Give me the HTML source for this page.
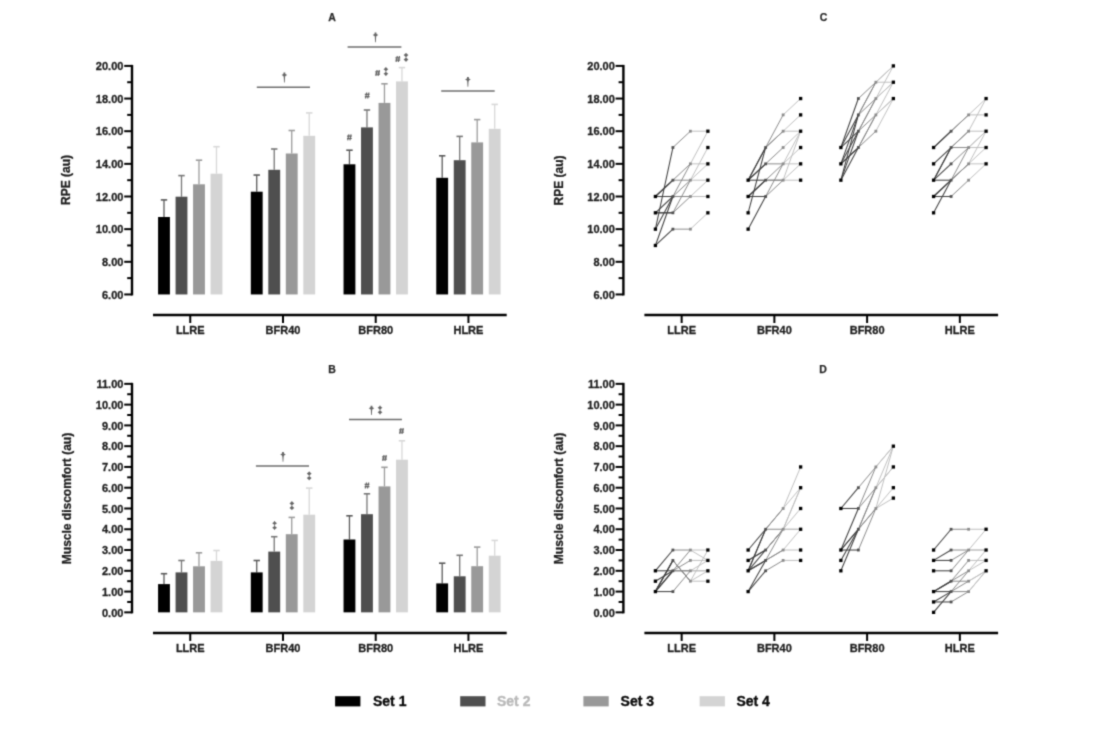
<!DOCTYPE html><html><head><meta charset="utf-8"><style>
html,body{margin:0;padding:0;background:#fff;}
body{width:1109px;height:737px;overflow:hidden;}
svg{display:block;font-family:"Liberation Sans", sans-serif;}
.tk{font-size:11px;font-weight:bold;fill:#1e1e1e;stroke:#1e1e1e;stroke-width:0.3px;}
.ttl{font-size:10.5px;font-weight:bold;fill:#2a2a2a;stroke:#2a2a2a;stroke-width:0.25px;}
.yl{font-size:12px;font-weight:bold;fill:#1e1e1e;stroke:#1e1e1e;stroke-width:0.3px;}
.sig{font-size:10px;fill:#555;}
.hs{font-size:8.5px;font-weight:bold;font-style:italic;fill:#555;}
.lg{font-size:14px;font-weight:bold;stroke-width:0.35px;}
</style></head><body>
<svg width="1109" height="737" viewBox="0 0 1109 737">
<defs><filter id="bl" filterUnits="userSpaceOnUse" x="0" y="0" width="1109" height="737" color-interpolation-filters="sRGB"><feConvolveMatrix order="3" kernelMatrix="1 4 1 4 16 4 1 4 1" divisor="36" edgeMode="duplicate"/></filter></defs>
<g>
<text x="332" y="20.9" text-anchor="middle" class="ttl">A</text>
<text x="332" y="372.5" text-anchor="middle" class="ttl">B</text>
<text x="823.5" y="21.2" text-anchor="middle" class="ttl">C</text>
<text x="823" y="372.5" text-anchor="middle" class="ttl">D</text>
<text transform="translate(69.8,180) rotate(-90)" text-anchor="middle" class="yl">RPE (au)</text>
<text transform="translate(71.2,498.5) rotate(-90)" text-anchor="middle" class="yl">Muscle discomfort (au)</text>
<text transform="translate(562.70,180.5) rotate(-90)" text-anchor="middle" class="yl">RPE (au)</text>
<text transform="translate(563.00,498.5) rotate(-90)" text-anchor="middle" class="yl">Muscle discomfort (au)</text>
<line x1="132.00" y1="64.90" x2="132.00" y2="295.45" stroke="#000" stroke-width="2.4"/>
<line x1="124.20" y1="294.45" x2="132.00" y2="294.45" stroke="#000" stroke-width="2.0"/>
<text x="123.40" y="298.65" text-anchor="end" class="tk">6.00</text>
<line x1="127.20" y1="278.12" x2="132.00" y2="278.12" stroke="#000" stroke-width="2.0"/>
<line x1="124.20" y1="261.80" x2="132.00" y2="261.80" stroke="#000" stroke-width="2.0"/>
<text x="123.40" y="266.00" text-anchor="end" class="tk">8.00</text>
<line x1="127.20" y1="245.47" x2="132.00" y2="245.47" stroke="#000" stroke-width="2.0"/>
<line x1="124.20" y1="229.15" x2="132.00" y2="229.15" stroke="#000" stroke-width="2.0"/>
<text x="123.40" y="233.35" text-anchor="end" class="tk">10.00</text>
<line x1="127.20" y1="212.82" x2="132.00" y2="212.82" stroke="#000" stroke-width="2.0"/>
<line x1="124.20" y1="196.50" x2="132.00" y2="196.50" stroke="#000" stroke-width="2.0"/>
<text x="123.40" y="200.70" text-anchor="end" class="tk">12.00</text>
<line x1="127.20" y1="180.18" x2="132.00" y2="180.18" stroke="#000" stroke-width="2.0"/>
<line x1="124.20" y1="163.85" x2="132.00" y2="163.85" stroke="#000" stroke-width="2.0"/>
<text x="123.40" y="168.05" text-anchor="end" class="tk">14.00</text>
<line x1="127.20" y1="147.52" x2="132.00" y2="147.52" stroke="#000" stroke-width="2.0"/>
<line x1="124.20" y1="131.20" x2="132.00" y2="131.20" stroke="#000" stroke-width="2.0"/>
<text x="123.40" y="135.40" text-anchor="end" class="tk">16.00</text>
<line x1="127.20" y1="114.88" x2="132.00" y2="114.88" stroke="#000" stroke-width="2.0"/>
<line x1="124.20" y1="98.55" x2="132.00" y2="98.55" stroke="#000" stroke-width="2.0"/>
<text x="123.40" y="102.75" text-anchor="end" class="tk">18.00</text>
<line x1="127.20" y1="82.22" x2="132.00" y2="82.22" stroke="#000" stroke-width="2.0"/>
<line x1="124.20" y1="65.90" x2="132.00" y2="65.90" stroke="#000" stroke-width="2.0"/>
<text x="123.40" y="70.10" text-anchor="end" class="tk">20.00</text>
<line x1="153.00" y1="315.00" x2="506.70" y2="315.00" stroke="#000" stroke-width="2.4"/>
<line x1="190.25" y1="315.00" x2="190.25" y2="323.00" stroke="#000" stroke-width="2.0"/>
<text x="190.25" y="333.60" text-anchor="middle" class="tk">LLRE</text>
<line x1="282.98" y1="315.00" x2="282.98" y2="323.00" stroke="#000" stroke-width="2.0"/>
<text x="282.98" y="333.60" text-anchor="middle" class="tk">BFR40</text>
<line x1="375.71" y1="315.00" x2="375.71" y2="323.00" stroke="#000" stroke-width="2.0"/>
<text x="375.71" y="333.60" text-anchor="middle" class="tk">BFR80</text>
<line x1="468.44" y1="315.00" x2="468.44" y2="323.00" stroke="#000" stroke-width="2.0"/>
<text x="468.44" y="333.60" text-anchor="middle" class="tk">HLRE</text>
<line x1="132.00" y1="382.85" x2="132.00" y2="613.35" stroke="#000" stroke-width="2.4"/>
<line x1="124.20" y1="612.35" x2="132.00" y2="612.35" stroke="#000" stroke-width="2.0"/>
<text x="123.40" y="616.55" text-anchor="end" class="tk">0.00</text>
<line x1="127.20" y1="601.96" x2="132.00" y2="601.96" stroke="#000" stroke-width="2.0"/>
<line x1="124.20" y1="591.58" x2="132.00" y2="591.58" stroke="#000" stroke-width="2.0"/>
<text x="123.40" y="595.78" text-anchor="end" class="tk">1.00</text>
<line x1="127.20" y1="581.19" x2="132.00" y2="581.19" stroke="#000" stroke-width="2.0"/>
<line x1="124.20" y1="570.80" x2="132.00" y2="570.80" stroke="#000" stroke-width="2.0"/>
<text x="123.40" y="575.00" text-anchor="end" class="tk">2.00</text>
<line x1="127.20" y1="560.42" x2="132.00" y2="560.42" stroke="#000" stroke-width="2.0"/>
<line x1="124.20" y1="550.03" x2="132.00" y2="550.03" stroke="#000" stroke-width="2.0"/>
<text x="123.40" y="554.23" text-anchor="end" class="tk">3.00</text>
<line x1="127.20" y1="539.65" x2="132.00" y2="539.65" stroke="#000" stroke-width="2.0"/>
<line x1="124.20" y1="529.26" x2="132.00" y2="529.26" stroke="#000" stroke-width="2.0"/>
<text x="123.40" y="533.46" text-anchor="end" class="tk">4.00</text>
<line x1="127.20" y1="518.87" x2="132.00" y2="518.87" stroke="#000" stroke-width="2.0"/>
<line x1="124.20" y1="508.49" x2="132.00" y2="508.49" stroke="#000" stroke-width="2.0"/>
<text x="123.40" y="512.69" text-anchor="end" class="tk">5.00</text>
<line x1="127.20" y1="498.10" x2="132.00" y2="498.10" stroke="#000" stroke-width="2.0"/>
<line x1="124.20" y1="487.71" x2="132.00" y2="487.71" stroke="#000" stroke-width="2.0"/>
<text x="123.40" y="491.91" text-anchor="end" class="tk">6.00</text>
<line x1="127.20" y1="477.33" x2="132.00" y2="477.33" stroke="#000" stroke-width="2.0"/>
<line x1="124.20" y1="466.94" x2="132.00" y2="466.94" stroke="#000" stroke-width="2.0"/>
<text x="123.40" y="471.14" text-anchor="end" class="tk">7.00</text>
<line x1="127.20" y1="456.55" x2="132.00" y2="456.55" stroke="#000" stroke-width="2.0"/>
<line x1="124.20" y1="446.17" x2="132.00" y2="446.17" stroke="#000" stroke-width="2.0"/>
<text x="123.40" y="450.37" text-anchor="end" class="tk">8.00</text>
<line x1="127.20" y1="435.78" x2="132.00" y2="435.78" stroke="#000" stroke-width="2.0"/>
<line x1="124.20" y1="425.40" x2="132.00" y2="425.40" stroke="#000" stroke-width="2.0"/>
<text x="123.40" y="429.60" text-anchor="end" class="tk">9.00</text>
<line x1="127.20" y1="415.01" x2="132.00" y2="415.01" stroke="#000" stroke-width="2.0"/>
<line x1="124.20" y1="404.62" x2="132.00" y2="404.62" stroke="#000" stroke-width="2.0"/>
<text x="123.40" y="408.82" text-anchor="end" class="tk">10.00</text>
<line x1="127.20" y1="394.24" x2="132.00" y2="394.24" stroke="#000" stroke-width="2.0"/>
<line x1="124.20" y1="383.85" x2="132.00" y2="383.85" stroke="#000" stroke-width="2.0"/>
<text x="123.40" y="388.05" text-anchor="end" class="tk">11.00</text>
<line x1="153.00" y1="632.95" x2="506.70" y2="632.95" stroke="#000" stroke-width="2.4"/>
<line x1="190.25" y1="632.95" x2="190.25" y2="640.95" stroke="#000" stroke-width="2.0"/>
<text x="190.25" y="651.55" text-anchor="middle" class="tk">LLRE</text>
<line x1="282.98" y1="632.95" x2="282.98" y2="640.95" stroke="#000" stroke-width="2.0"/>
<text x="282.98" y="651.55" text-anchor="middle" class="tk">BFR40</text>
<line x1="375.71" y1="632.95" x2="375.71" y2="640.95" stroke="#000" stroke-width="2.0"/>
<text x="375.71" y="651.55" text-anchor="middle" class="tk">BFR80</text>
<line x1="468.44" y1="632.95" x2="468.44" y2="640.95" stroke="#000" stroke-width="2.0"/>
<text x="468.44" y="651.55" text-anchor="middle" class="tk">HLRE</text>
<line x1="623.40" y1="64.90" x2="623.40" y2="295.45" stroke="#000" stroke-width="2.4"/>
<line x1="615.60" y1="294.45" x2="623.40" y2="294.45" stroke="#000" stroke-width="2.0"/>
<text x="614.80" y="298.65" text-anchor="end" class="tk">6.00</text>
<line x1="618.60" y1="278.12" x2="623.40" y2="278.12" stroke="#000" stroke-width="2.0"/>
<line x1="615.60" y1="261.80" x2="623.40" y2="261.80" stroke="#000" stroke-width="2.0"/>
<text x="614.80" y="266.00" text-anchor="end" class="tk">8.00</text>
<line x1="618.60" y1="245.47" x2="623.40" y2="245.47" stroke="#000" stroke-width="2.0"/>
<line x1="615.60" y1="229.15" x2="623.40" y2="229.15" stroke="#000" stroke-width="2.0"/>
<text x="614.80" y="233.35" text-anchor="end" class="tk">10.00</text>
<line x1="618.60" y1="212.82" x2="623.40" y2="212.82" stroke="#000" stroke-width="2.0"/>
<line x1="615.60" y1="196.50" x2="623.40" y2="196.50" stroke="#000" stroke-width="2.0"/>
<text x="614.80" y="200.70" text-anchor="end" class="tk">12.00</text>
<line x1="618.60" y1="180.18" x2="623.40" y2="180.18" stroke="#000" stroke-width="2.0"/>
<line x1="615.60" y1="163.85" x2="623.40" y2="163.85" stroke="#000" stroke-width="2.0"/>
<text x="614.80" y="168.05" text-anchor="end" class="tk">14.00</text>
<line x1="618.60" y1="147.52" x2="623.40" y2="147.52" stroke="#000" stroke-width="2.0"/>
<line x1="615.60" y1="131.20" x2="623.40" y2="131.20" stroke="#000" stroke-width="2.0"/>
<text x="614.80" y="135.40" text-anchor="end" class="tk">16.00</text>
<line x1="618.60" y1="114.88" x2="623.40" y2="114.88" stroke="#000" stroke-width="2.0"/>
<line x1="615.60" y1="98.55" x2="623.40" y2="98.55" stroke="#000" stroke-width="2.0"/>
<text x="614.80" y="102.75" text-anchor="end" class="tk">18.00</text>
<line x1="618.60" y1="82.22" x2="623.40" y2="82.22" stroke="#000" stroke-width="2.0"/>
<line x1="615.60" y1="65.90" x2="623.40" y2="65.90" stroke="#000" stroke-width="2.0"/>
<text x="614.80" y="70.10" text-anchor="end" class="tk">20.00</text>
<line x1="644.40" y1="315.00" x2="998.10" y2="315.00" stroke="#000" stroke-width="2.4"/>
<line x1="681.65" y1="315.00" x2="681.65" y2="323.00" stroke="#000" stroke-width="2.0"/>
<text x="681.65" y="333.60" text-anchor="middle" class="tk">LLRE</text>
<line x1="774.38" y1="315.00" x2="774.38" y2="323.00" stroke="#000" stroke-width="2.0"/>
<text x="774.38" y="333.60" text-anchor="middle" class="tk">BFR40</text>
<line x1="867.11" y1="315.00" x2="867.11" y2="323.00" stroke="#000" stroke-width="2.0"/>
<text x="867.11" y="333.60" text-anchor="middle" class="tk">BFR80</text>
<line x1="959.84" y1="315.00" x2="959.84" y2="323.00" stroke="#000" stroke-width="2.0"/>
<text x="959.84" y="333.60" text-anchor="middle" class="tk">HLRE</text>
<line x1="623.40" y1="382.85" x2="623.40" y2="613.35" stroke="#000" stroke-width="2.4"/>
<line x1="615.60" y1="612.35" x2="623.40" y2="612.35" stroke="#000" stroke-width="2.0"/>
<text x="614.80" y="616.55" text-anchor="end" class="tk">0.00</text>
<line x1="618.60" y1="601.96" x2="623.40" y2="601.96" stroke="#000" stroke-width="2.0"/>
<line x1="615.60" y1="591.58" x2="623.40" y2="591.58" stroke="#000" stroke-width="2.0"/>
<text x="614.80" y="595.78" text-anchor="end" class="tk">1.00</text>
<line x1="618.60" y1="581.19" x2="623.40" y2="581.19" stroke="#000" stroke-width="2.0"/>
<line x1="615.60" y1="570.80" x2="623.40" y2="570.80" stroke="#000" stroke-width="2.0"/>
<text x="614.80" y="575.00" text-anchor="end" class="tk">2.00</text>
<line x1="618.60" y1="560.42" x2="623.40" y2="560.42" stroke="#000" stroke-width="2.0"/>
<line x1="615.60" y1="550.03" x2="623.40" y2="550.03" stroke="#000" stroke-width="2.0"/>
<text x="614.80" y="554.23" text-anchor="end" class="tk">3.00</text>
<line x1="618.60" y1="539.65" x2="623.40" y2="539.65" stroke="#000" stroke-width="2.0"/>
<line x1="615.60" y1="529.26" x2="623.40" y2="529.26" stroke="#000" stroke-width="2.0"/>
<text x="614.80" y="533.46" text-anchor="end" class="tk">4.00</text>
<line x1="618.60" y1="518.87" x2="623.40" y2="518.87" stroke="#000" stroke-width="2.0"/>
<line x1="615.60" y1="508.49" x2="623.40" y2="508.49" stroke="#000" stroke-width="2.0"/>
<text x="614.80" y="512.69" text-anchor="end" class="tk">5.00</text>
<line x1="618.60" y1="498.10" x2="623.40" y2="498.10" stroke="#000" stroke-width="2.0"/>
<line x1="615.60" y1="487.71" x2="623.40" y2="487.71" stroke="#000" stroke-width="2.0"/>
<text x="614.80" y="491.91" text-anchor="end" class="tk">6.00</text>
<line x1="618.60" y1="477.33" x2="623.40" y2="477.33" stroke="#000" stroke-width="2.0"/>
<line x1="615.60" y1="466.94" x2="623.40" y2="466.94" stroke="#000" stroke-width="2.0"/>
<text x="614.80" y="471.14" text-anchor="end" class="tk">7.00</text>
<line x1="618.60" y1="456.55" x2="623.40" y2="456.55" stroke="#000" stroke-width="2.0"/>
<line x1="615.60" y1="446.17" x2="623.40" y2="446.17" stroke="#000" stroke-width="2.0"/>
<text x="614.80" y="450.37" text-anchor="end" class="tk">8.00</text>
<line x1="618.60" y1="435.78" x2="623.40" y2="435.78" stroke="#000" stroke-width="2.0"/>
<line x1="615.60" y1="425.40" x2="623.40" y2="425.40" stroke="#000" stroke-width="2.0"/>
<text x="614.80" y="429.60" text-anchor="end" class="tk">9.00</text>
<line x1="618.60" y1="415.01" x2="623.40" y2="415.01" stroke="#000" stroke-width="2.0"/>
<line x1="615.60" y1="404.62" x2="623.40" y2="404.62" stroke="#000" stroke-width="2.0"/>
<text x="614.80" y="408.82" text-anchor="end" class="tk">10.00</text>
<line x1="618.60" y1="394.24" x2="623.40" y2="394.24" stroke="#000" stroke-width="2.0"/>
<line x1="615.60" y1="383.85" x2="623.40" y2="383.85" stroke="#000" stroke-width="2.0"/>
<text x="614.80" y="388.05" text-anchor="end" class="tk">11.00</text>
<line x1="644.40" y1="632.95" x2="998.10" y2="632.95" stroke="#000" stroke-width="2.4"/>
<line x1="681.65" y1="632.95" x2="681.65" y2="640.95" stroke="#000" stroke-width="2.0"/>
<text x="681.65" y="651.55" text-anchor="middle" class="tk">LLRE</text>
<line x1="774.38" y1="632.95" x2="774.38" y2="640.95" stroke="#000" stroke-width="2.0"/>
<text x="774.38" y="651.55" text-anchor="middle" class="tk">BFR40</text>
<line x1="867.11" y1="632.95" x2="867.11" y2="640.95" stroke="#000" stroke-width="2.0"/>
<text x="867.11" y="651.55" text-anchor="middle" class="tk">BFR80</text>
<line x1="959.84" y1="632.95" x2="959.84" y2="640.95" stroke="#000" stroke-width="2.0"/>
<text x="959.84" y="651.55" text-anchor="middle" class="tk">HLRE</text>
<line x1="164.00" y1="199.90" x2="164.00" y2="217.00" stroke="#5a5a5a" stroke-width="1.3"/>
<line x1="160.80" y1="199.90" x2="167.20" y2="199.90" stroke="#5a5a5a" stroke-width="1.6"/>
<rect x="158.07" y="217.00" width="11.85" height="77.45" fill="#000000"/>
<line x1="181.50" y1="175.60" x2="181.50" y2="196.70" stroke="#777777" stroke-width="1.3"/>
<line x1="178.30" y1="175.60" x2="184.70" y2="175.60" stroke="#777777" stroke-width="1.6"/>
<rect x="175.57" y="196.70" width="11.85" height="97.75" fill="#4f4f4f"/>
<line x1="199.00" y1="160.20" x2="199.00" y2="184.30" stroke="#9c9c9c" stroke-width="1.3"/>
<line x1="195.80" y1="160.20" x2="202.20" y2="160.20" stroke="#9c9c9c" stroke-width="1.6"/>
<rect x="193.07" y="184.30" width="11.85" height="110.15" fill="#999999"/>
<line x1="216.50" y1="146.70" x2="216.50" y2="173.70" stroke="#d8d8d8" stroke-width="1.3"/>
<line x1="213.30" y1="146.70" x2="219.70" y2="146.70" stroke="#d8d8d8" stroke-width="1.6"/>
<rect x="210.57" y="173.70" width="11.85" height="120.75" fill="#d4d4d4"/>
<line x1="256.73" y1="175.05" x2="256.73" y2="191.70" stroke="#5a5a5a" stroke-width="1.3"/>
<line x1="253.53" y1="175.05" x2="259.93" y2="175.05" stroke="#5a5a5a" stroke-width="1.6"/>
<rect x="250.81" y="191.70" width="11.85" height="102.75" fill="#000000"/>
<line x1="274.23" y1="149.00" x2="274.23" y2="169.80" stroke="#777777" stroke-width="1.3"/>
<line x1="271.03" y1="149.00" x2="277.43" y2="149.00" stroke="#777777" stroke-width="1.6"/>
<rect x="268.31" y="169.80" width="11.85" height="124.65" fill="#4f4f4f"/>
<line x1="291.73" y1="130.50" x2="291.73" y2="153.50" stroke="#9c9c9c" stroke-width="1.3"/>
<line x1="288.53" y1="130.50" x2="294.93" y2="130.50" stroke="#9c9c9c" stroke-width="1.6"/>
<rect x="285.81" y="153.50" width="11.85" height="140.95" fill="#999999"/>
<line x1="309.23" y1="112.90" x2="309.23" y2="135.80" stroke="#d8d8d8" stroke-width="1.3"/>
<line x1="306.03" y1="112.90" x2="312.43" y2="112.90" stroke="#d8d8d8" stroke-width="1.6"/>
<rect x="303.31" y="135.80" width="11.85" height="158.65" fill="#d4d4d4"/>
<line x1="349.46" y1="150.20" x2="349.46" y2="164.30" stroke="#5a5a5a" stroke-width="1.3"/>
<line x1="346.26" y1="150.20" x2="352.66" y2="150.20" stroke="#5a5a5a" stroke-width="1.6"/>
<rect x="343.54" y="164.30" width="11.85" height="130.15" fill="#000000"/>
<line x1="366.96" y1="110.00" x2="366.96" y2="127.40" stroke="#777777" stroke-width="1.3"/>
<line x1="363.76" y1="110.00" x2="370.16" y2="110.00" stroke="#777777" stroke-width="1.6"/>
<rect x="361.04" y="127.40" width="11.85" height="167.05" fill="#4f4f4f"/>
<line x1="384.46" y1="83.80" x2="384.46" y2="102.90" stroke="#9c9c9c" stroke-width="1.3"/>
<line x1="381.26" y1="83.80" x2="387.66" y2="83.80" stroke="#9c9c9c" stroke-width="1.6"/>
<rect x="378.54" y="102.90" width="11.85" height="191.55" fill="#999999"/>
<line x1="401.96" y1="67.60" x2="401.96" y2="81.40" stroke="#d8d8d8" stroke-width="1.3"/>
<line x1="398.76" y1="67.60" x2="405.16" y2="67.60" stroke="#d8d8d8" stroke-width="1.6"/>
<rect x="396.04" y="81.40" width="11.85" height="213.05" fill="#d4d4d4"/>
<line x1="442.19" y1="155.80" x2="442.19" y2="177.80" stroke="#5a5a5a" stroke-width="1.3"/>
<line x1="438.99" y1="155.80" x2="445.39" y2="155.80" stroke="#5a5a5a" stroke-width="1.6"/>
<rect x="436.26" y="177.80" width="11.85" height="116.65" fill="#000000"/>
<line x1="459.69" y1="136.40" x2="459.69" y2="160.20" stroke="#777777" stroke-width="1.3"/>
<line x1="456.49" y1="136.40" x2="462.89" y2="136.40" stroke="#777777" stroke-width="1.6"/>
<rect x="453.76" y="160.20" width="11.85" height="134.25" fill="#4f4f4f"/>
<line x1="477.19" y1="119.60" x2="477.19" y2="142.40" stroke="#9c9c9c" stroke-width="1.3"/>
<line x1="473.99" y1="119.60" x2="480.39" y2="119.60" stroke="#9c9c9c" stroke-width="1.6"/>
<rect x="471.26" y="142.40" width="11.85" height="152.05" fill="#999999"/>
<line x1="494.69" y1="104.40" x2="494.69" y2="128.80" stroke="#d8d8d8" stroke-width="1.3"/>
<line x1="491.49" y1="104.40" x2="497.89" y2="104.40" stroke="#d8d8d8" stroke-width="1.6"/>
<rect x="488.76" y="128.80" width="11.85" height="165.65" fill="#d4d4d4"/>
<line x1="164.00" y1="573.70" x2="164.00" y2="584.10" stroke="#5a5a5a" stroke-width="1.3"/>
<line x1="160.80" y1="573.70" x2="167.20" y2="573.70" stroke="#5a5a5a" stroke-width="1.6"/>
<rect x="158.07" y="584.10" width="11.85" height="28.25" fill="#000000"/>
<line x1="181.50" y1="560.50" x2="181.50" y2="572.40" stroke="#777777" stroke-width="1.3"/>
<line x1="178.30" y1="560.50" x2="184.70" y2="560.50" stroke="#777777" stroke-width="1.6"/>
<rect x="175.57" y="572.40" width="11.85" height="39.95" fill="#4f4f4f"/>
<line x1="199.00" y1="552.80" x2="199.00" y2="566.30" stroke="#9c9c9c" stroke-width="1.3"/>
<line x1="195.80" y1="552.80" x2="202.20" y2="552.80" stroke="#9c9c9c" stroke-width="1.6"/>
<rect x="193.07" y="566.30" width="11.85" height="46.05" fill="#999999"/>
<line x1="216.50" y1="550.50" x2="216.50" y2="560.90" stroke="#d8d8d8" stroke-width="1.3"/>
<line x1="213.30" y1="550.50" x2="219.70" y2="550.50" stroke="#d8d8d8" stroke-width="1.6"/>
<rect x="210.57" y="560.90" width="11.85" height="51.45" fill="#d4d4d4"/>
<line x1="256.73" y1="560.50" x2="256.73" y2="572.40" stroke="#5a5a5a" stroke-width="1.3"/>
<line x1="253.53" y1="560.50" x2="259.93" y2="560.50" stroke="#5a5a5a" stroke-width="1.6"/>
<rect x="250.81" y="572.40" width="11.85" height="39.95" fill="#000000"/>
<line x1="274.23" y1="536.70" x2="274.23" y2="551.60" stroke="#777777" stroke-width="1.3"/>
<line x1="271.03" y1="536.70" x2="277.43" y2="536.70" stroke="#777777" stroke-width="1.6"/>
<rect x="268.31" y="551.60" width="11.85" height="60.75" fill="#4f4f4f"/>
<line x1="291.73" y1="517.40" x2="291.73" y2="534.20" stroke="#9c9c9c" stroke-width="1.3"/>
<line x1="288.53" y1="517.40" x2="294.93" y2="517.40" stroke="#9c9c9c" stroke-width="1.6"/>
<rect x="285.81" y="534.20" width="11.85" height="78.15" fill="#999999"/>
<line x1="309.23" y1="488.10" x2="309.23" y2="514.70" stroke="#d8d8d8" stroke-width="1.3"/>
<line x1="306.03" y1="488.10" x2="312.43" y2="488.10" stroke="#d8d8d8" stroke-width="1.6"/>
<rect x="303.31" y="514.70" width="11.85" height="97.65" fill="#d4d4d4"/>
<line x1="349.46" y1="515.80" x2="349.46" y2="539.50" stroke="#5a5a5a" stroke-width="1.3"/>
<line x1="346.26" y1="515.80" x2="352.66" y2="515.80" stroke="#5a5a5a" stroke-width="1.6"/>
<rect x="343.54" y="539.50" width="11.85" height="72.85" fill="#000000"/>
<line x1="366.96" y1="493.80" x2="366.96" y2="514.20" stroke="#777777" stroke-width="1.3"/>
<line x1="363.76" y1="493.80" x2="370.16" y2="493.80" stroke="#777777" stroke-width="1.6"/>
<rect x="361.04" y="514.20" width="11.85" height="98.15" fill="#4f4f4f"/>
<line x1="384.46" y1="467.30" x2="384.46" y2="486.40" stroke="#9c9c9c" stroke-width="1.3"/>
<line x1="381.26" y1="467.30" x2="387.66" y2="467.30" stroke="#9c9c9c" stroke-width="1.6"/>
<rect x="378.54" y="486.40" width="11.85" height="125.95" fill="#999999"/>
<line x1="401.96" y1="440.80" x2="401.96" y2="459.70" stroke="#d8d8d8" stroke-width="1.3"/>
<line x1="398.76" y1="440.80" x2="405.16" y2="440.80" stroke="#d8d8d8" stroke-width="1.6"/>
<rect x="396.04" y="459.70" width="11.85" height="152.65" fill="#d4d4d4"/>
<line x1="442.19" y1="563.20" x2="442.19" y2="583.40" stroke="#5a5a5a" stroke-width="1.3"/>
<line x1="438.99" y1="563.20" x2="445.39" y2="563.20" stroke="#5a5a5a" stroke-width="1.6"/>
<rect x="436.26" y="583.40" width="11.85" height="28.95" fill="#000000"/>
<line x1="459.69" y1="555.30" x2="459.69" y2="576.30" stroke="#777777" stroke-width="1.3"/>
<line x1="456.49" y1="555.30" x2="462.89" y2="555.30" stroke="#777777" stroke-width="1.6"/>
<rect x="453.76" y="576.30" width="11.85" height="36.05" fill="#4f4f4f"/>
<line x1="477.19" y1="547.10" x2="477.19" y2="566.20" stroke="#9c9c9c" stroke-width="1.3"/>
<line x1="473.99" y1="547.10" x2="480.39" y2="547.10" stroke="#9c9c9c" stroke-width="1.6"/>
<rect x="471.26" y="566.20" width="11.85" height="46.15" fill="#999999"/>
<line x1="494.69" y1="540.40" x2="494.69" y2="555.70" stroke="#d8d8d8" stroke-width="1.3"/>
<line x1="491.49" y1="540.40" x2="497.89" y2="540.40" stroke="#d8d8d8" stroke-width="1.6"/>
<rect x="488.76" y="555.70" width="11.85" height="56.65" fill="#d4d4d4"/>
<line x1="256.8" y1="87.3" x2="310" y2="87.3" stroke="#6e6e6e" stroke-width="1.5"/>
<path d="M283.50,72.50 L285.30,72.50 L284.75,82.40 L284.05,82.40 Z" fill="#666666"/>
<path d="M284.40,72.80 L285.40,74.10 L287.20,75.10 L285.40,76.10 L284.40,77.40 L283.40,76.10 L281.60,75.10 L283.40,74.10 Z" fill="#666666"/>
<line x1="347.6" y1="47" x2="401.4" y2="47" stroke="#6e6e6e" stroke-width="1.5"/>
<path d="M374.60,32.40 L376.40,32.40 L375.85,42.30 L375.15,42.30 Z" fill="#666666"/>
<path d="M375.50,32.70 L376.50,34.00 L378.30,35.00 L376.50,36.00 L375.50,37.30 L374.50,36.00 L372.70,35.00 L374.50,34.00 Z" fill="#666666"/>
<line x1="441.2" y1="91" x2="494.7" y2="91" stroke="#6e6e6e" stroke-width="1.5"/>
<path d="M467.00,76.90 L468.80,76.90 L468.25,86.80 L467.55,86.80 Z" fill="#666666"/>
<path d="M467.90,77.20 L468.90,78.50 L470.70,79.50 L468.90,80.50 L467.90,81.80 L466.90,80.50 L465.10,79.50 L466.90,78.50 Z" fill="#666666"/>
<path d="M348.90,134.30 L347.70,140.30 M351.10,134.30 L349.90,140.30 M347.00,136.10 L351.80,136.10 M347.00,138.50 L351.80,138.50 " stroke="#666666" stroke-width="1.2" fill="none"/>
<path d="M366.70,92.50 L365.50,98.50 M368.90,92.50 L367.70,98.50 M364.80,94.30 L369.60,94.30 M364.80,96.70 L369.60,96.70 " stroke="#666666" stroke-width="1.2" fill="none"/>
<path d="M377.10,70.00 L375.90,76.00 M379.30,70.00 L378.10,76.00 M375.20,71.80 L380.00,71.80 M375.20,74.20 L380.00,74.20 " stroke="#666666" stroke-width="1.2" fill="none"/>
<path d="M385.55,67.10 L386.25,67.10 L386.25,76.00 L385.55,76.00 Z" fill="#666666"/>
<path d="M385.90,67.40 L386.95,68.25 L388.30,69.30 L386.95,70.35 L385.90,71.20 L384.85,70.35 L383.50,69.30 L384.85,68.25 Z" fill="#666666"/>
<path d="M385.90,71.90 L386.95,72.75 L388.30,73.80 L386.95,74.85 L385.90,75.70 L384.85,74.85 L383.50,73.80 L384.85,72.75 Z" fill="#666666"/>
<path d="M397.30,56.00 L396.10,62.00 M399.50,56.00 L398.30,62.00 M395.40,57.80 L400.20,57.80 M395.40,60.20 L400.20,60.20 " stroke="#666666" stroke-width="1.2" fill="none"/>
<path d="M405.65,52.90 L406.35,52.90 L406.35,61.80 L405.65,61.80 Z" fill="#666666"/>
<path d="M406.00,53.20 L407.05,54.05 L408.40,55.10 L407.05,56.15 L406.00,57.00 L404.95,56.15 L403.60,55.10 L404.95,54.05 Z" fill="#666666"/>
<path d="M406.00,57.70 L407.05,58.55 L408.40,59.60 L407.05,60.65 L406.00,61.50 L404.95,60.65 L403.60,59.60 L404.95,58.55 Z" fill="#666666"/>
<line x1="255.9" y1="465.9" x2="309" y2="465.9" stroke="#6e6e6e" stroke-width="1.5"/>
<path d="M282.10,451.90 L283.90,451.90 L283.35,461.80 L282.65,461.80 Z" fill="#666666"/>
<path d="M283.00,452.20 L284.00,453.50 L285.80,454.50 L284.00,455.50 L283.00,456.80 L282.00,455.50 L280.20,454.50 L282.00,453.50 Z" fill="#666666"/>
<path d="M274.25,521.00 L274.95,521.00 L274.95,529.90 L274.25,529.90 Z" fill="#666666"/>
<path d="M274.60,521.30 L275.65,522.15 L277.00,523.20 L275.65,524.25 L274.60,525.10 L273.55,524.25 L272.20,523.20 L273.55,522.15 Z" fill="#666666"/>
<path d="M274.60,525.80 L275.65,526.65 L277.00,527.70 L275.65,528.75 L274.60,529.60 L273.55,528.75 L272.20,527.70 L273.55,526.65 Z" fill="#666666"/>
<path d="M291.55,501.20 L292.25,501.20 L292.25,510.10 L291.55,510.10 Z" fill="#666666"/>
<path d="M291.90,501.50 L292.95,502.35 L294.30,503.40 L292.95,504.45 L291.90,505.30 L290.85,504.45 L289.50,503.40 L290.85,502.35 Z" fill="#666666"/>
<path d="M291.90,506.00 L292.95,506.85 L294.30,507.90 L292.95,508.95 L291.90,509.80 L290.85,508.95 L289.50,507.90 L290.85,506.85 Z" fill="#666666"/>
<path d="M308.85,471.40 L309.55,471.40 L309.55,480.30 L308.85,480.30 Z" fill="#666666"/>
<path d="M309.20,471.70 L310.25,472.55 L311.60,473.60 L310.25,474.65 L309.20,475.50 L308.15,474.65 L306.80,473.60 L308.15,472.55 Z" fill="#666666"/>
<path d="M309.20,476.20 L310.25,477.05 L311.60,478.10 L310.25,479.15 L309.20,480.00 L308.15,479.15 L306.80,478.10 L308.15,477.05 Z" fill="#666666"/>
<line x1="349" y1="419.4" x2="401.9" y2="419.4" stroke="#6e6e6e" stroke-width="1.5"/>
<path d="M370.60,405.70 L372.40,405.70 L371.85,414.90 L371.15,414.90 Z" fill="#666666"/>
<path d="M371.50,406.00 L372.50,407.30 L374.30,408.30 L372.50,409.30 L371.50,410.60 L370.50,409.30 L368.70,408.30 L370.50,407.30 Z" fill="#666666"/>
<path d="M379.65,405.60 L380.35,405.60 L380.35,414.50 L379.65,414.50 Z" fill="#666666"/>
<path d="M380.00,405.90 L381.05,406.75 L382.40,407.80 L381.05,408.85 L380.00,409.70 L378.95,408.85 L377.60,407.80 L378.95,406.75 Z" fill="#666666"/>
<path d="M380.00,410.40 L381.05,411.25 L382.40,412.30 L381.05,413.35 L380.00,414.20 L378.95,413.35 L377.60,412.30 L378.95,411.25 Z" fill="#666666"/>
<path d="M366.50,482.50 L365.30,488.50 M368.70,482.50 L367.50,488.50 M364.60,484.30 L369.40,484.30 M364.60,486.70 L369.40,486.70 " stroke="#666666" stroke-width="1.2" fill="none"/>
<path d="M384.00,455.00 L382.80,461.00 M386.20,455.00 L385.00,461.00 M382.10,456.80 L386.90,456.80 M382.10,459.20 L386.90,459.20 " stroke="#666666" stroke-width="1.2" fill="none"/>
<path d="M401.00,428.00 L399.80,434.00 M403.20,428.00 L402.00,434.00 M399.10,429.80 L403.90,429.80 M399.10,432.20 L403.90,432.20 " stroke="#666666" stroke-width="1.2" fill="none"/>
<line x1="690.40" y1="131.20" x2="707.90" y2="131.20" stroke="#bdbdbd" stroke-width="0.95"/>
<line x1="690.40" y1="229.15" x2="707.90" y2="212.82" stroke="#bdbdbd" stroke-width="0.95"/>
<line x1="690.40" y1="163.85" x2="707.90" y2="163.85" stroke="#bdbdbd" stroke-width="0.95"/>
<line x1="690.40" y1="180.18" x2="707.90" y2="180.18" stroke="#bdbdbd" stroke-width="0.95"/>
<line x1="690.40" y1="180.18" x2="707.90" y2="147.52" stroke="#bdbdbd" stroke-width="0.95"/>
<line x1="690.40" y1="180.18" x2="707.90" y2="163.85" stroke="#bdbdbd" stroke-width="0.95"/>
<line x1="690.40" y1="163.85" x2="707.90" y2="131.20" stroke="#bdbdbd" stroke-width="0.95"/>
<line x1="690.40" y1="196.50" x2="707.90" y2="196.50" stroke="#bdbdbd" stroke-width="0.95"/>
<line x1="690.40" y1="196.50" x2="707.90" y2="196.50" stroke="#bdbdbd" stroke-width="0.95"/>
<line x1="690.40" y1="196.50" x2="707.90" y2="180.18" stroke="#bdbdbd" stroke-width="0.95"/>
<line x1="783.13" y1="114.88" x2="800.63" y2="98.55" stroke="#bdbdbd" stroke-width="0.95"/>
<line x1="783.13" y1="131.20" x2="800.63" y2="114.88" stroke="#bdbdbd" stroke-width="0.95"/>
<line x1="783.13" y1="131.20" x2="800.63" y2="131.20" stroke="#bdbdbd" stroke-width="0.95"/>
<line x1="783.13" y1="147.52" x2="800.63" y2="131.20" stroke="#bdbdbd" stroke-width="0.95"/>
<line x1="783.13" y1="163.85" x2="800.63" y2="147.52" stroke="#bdbdbd" stroke-width="0.95"/>
<line x1="783.13" y1="180.18" x2="800.63" y2="180.18" stroke="#bdbdbd" stroke-width="0.95"/>
<line x1="783.13" y1="180.18" x2="800.63" y2="163.85" stroke="#bdbdbd" stroke-width="0.95"/>
<line x1="783.13" y1="163.85" x2="800.63" y2="131.20" stroke="#bdbdbd" stroke-width="0.95"/>
<line x1="783.13" y1="180.18" x2="800.63" y2="131.20" stroke="#bdbdbd" stroke-width="0.95"/>
<line x1="783.13" y1="163.85" x2="800.63" y2="163.85" stroke="#bdbdbd" stroke-width="0.95"/>
<line x1="875.86" y1="82.22" x2="893.36" y2="65.90" stroke="#bdbdbd" stroke-width="0.95"/>
<line x1="875.86" y1="98.55" x2="893.36" y2="82.22" stroke="#bdbdbd" stroke-width="0.95"/>
<line x1="875.86" y1="82.22" x2="893.36" y2="65.90" stroke="#bdbdbd" stroke-width="0.95"/>
<line x1="875.86" y1="98.55" x2="893.36" y2="82.22" stroke="#bdbdbd" stroke-width="0.95"/>
<line x1="875.86" y1="131.20" x2="893.36" y2="98.55" stroke="#bdbdbd" stroke-width="0.95"/>
<line x1="875.86" y1="114.88" x2="893.36" y2="82.22" stroke="#bdbdbd" stroke-width="0.95"/>
<line x1="875.86" y1="114.88" x2="893.36" y2="98.55" stroke="#bdbdbd" stroke-width="0.95"/>
<line x1="875.86" y1="98.55" x2="893.36" y2="65.90" stroke="#bdbdbd" stroke-width="0.95"/>
<line x1="875.86" y1="82.22" x2="893.36" y2="82.22" stroke="#bdbdbd" stroke-width="0.95"/>
<line x1="875.86" y1="114.88" x2="893.36" y2="98.55" stroke="#bdbdbd" stroke-width="0.95"/>
<line x1="968.59" y1="114.88" x2="986.09" y2="98.55" stroke="#bdbdbd" stroke-width="0.95"/>
<line x1="968.59" y1="114.88" x2="986.09" y2="114.88" stroke="#bdbdbd" stroke-width="0.95"/>
<line x1="968.59" y1="131.20" x2="986.09" y2="131.20" stroke="#bdbdbd" stroke-width="0.95"/>
<line x1="968.59" y1="147.52" x2="986.09" y2="147.52" stroke="#bdbdbd" stroke-width="0.95"/>
<line x1="968.59" y1="147.52" x2="986.09" y2="131.20" stroke="#bdbdbd" stroke-width="0.95"/>
<line x1="968.59" y1="163.85" x2="986.09" y2="163.85" stroke="#bdbdbd" stroke-width="0.95"/>
<line x1="968.59" y1="163.85" x2="986.09" y2="131.20" stroke="#bdbdbd" stroke-width="0.95"/>
<line x1="968.59" y1="180.18" x2="986.09" y2="163.85" stroke="#bdbdbd" stroke-width="0.95"/>
<line x1="968.59" y1="147.52" x2="986.09" y2="131.20" stroke="#bdbdbd" stroke-width="0.95"/>
<line x1="968.59" y1="131.20" x2="986.09" y2="98.55" stroke="#bdbdbd" stroke-width="0.95"/>
<line x1="968.59" y1="163.85" x2="986.09" y2="147.52" stroke="#bdbdbd" stroke-width="0.95"/>
<line x1="672.90" y1="147.52" x2="690.40" y2="131.20" stroke="#858585" stroke-width="0.95"/>
<line x1="672.90" y1="229.15" x2="690.40" y2="229.15" stroke="#858585" stroke-width="0.95"/>
<line x1="672.90" y1="180.18" x2="690.40" y2="163.85" stroke="#858585" stroke-width="0.95"/>
<line x1="672.90" y1="180.18" x2="690.40" y2="180.18" stroke="#858585" stroke-width="0.95"/>
<line x1="672.90" y1="212.82" x2="690.40" y2="180.18" stroke="#858585" stroke-width="0.95"/>
<line x1="672.90" y1="196.50" x2="690.40" y2="180.18" stroke="#858585" stroke-width="0.95"/>
<line x1="672.90" y1="196.50" x2="690.40" y2="163.85" stroke="#858585" stroke-width="0.95"/>
<line x1="672.90" y1="196.50" x2="690.40" y2="196.50" stroke="#858585" stroke-width="0.95"/>
<line x1="672.90" y1="196.50" x2="690.40" y2="196.50" stroke="#858585" stroke-width="0.95"/>
<line x1="672.90" y1="212.82" x2="690.40" y2="196.50" stroke="#858585" stroke-width="0.95"/>
<line x1="765.63" y1="147.52" x2="783.13" y2="114.88" stroke="#858585" stroke-width="0.95"/>
<line x1="765.63" y1="147.52" x2="783.13" y2="131.20" stroke="#858585" stroke-width="0.95"/>
<line x1="765.63" y1="147.52" x2="783.13" y2="131.20" stroke="#858585" stroke-width="0.95"/>
<line x1="765.63" y1="163.85" x2="783.13" y2="147.52" stroke="#858585" stroke-width="0.95"/>
<line x1="765.63" y1="163.85" x2="783.13" y2="163.85" stroke="#858585" stroke-width="0.95"/>
<line x1="765.63" y1="180.18" x2="783.13" y2="180.18" stroke="#858585" stroke-width="0.95"/>
<line x1="765.63" y1="196.50" x2="783.13" y2="180.18" stroke="#858585" stroke-width="0.95"/>
<line x1="765.63" y1="196.50" x2="783.13" y2="163.85" stroke="#858585" stroke-width="0.95"/>
<line x1="765.63" y1="180.18" x2="783.13" y2="180.18" stroke="#858585" stroke-width="0.95"/>
<line x1="765.63" y1="180.18" x2="783.13" y2="163.85" stroke="#858585" stroke-width="0.95"/>
<line x1="858.36" y1="98.55" x2="875.86" y2="82.22" stroke="#858585" stroke-width="0.95"/>
<line x1="858.36" y1="114.88" x2="875.86" y2="98.55" stroke="#858585" stroke-width="0.95"/>
<line x1="858.36" y1="114.88" x2="875.86" y2="82.22" stroke="#858585" stroke-width="0.95"/>
<line x1="858.36" y1="131.20" x2="875.86" y2="98.55" stroke="#858585" stroke-width="0.95"/>
<line x1="858.36" y1="147.52" x2="875.86" y2="131.20" stroke="#858585" stroke-width="0.95"/>
<line x1="858.36" y1="131.20" x2="875.86" y2="114.88" stroke="#858585" stroke-width="0.95"/>
<line x1="858.36" y1="147.52" x2="875.86" y2="114.88" stroke="#858585" stroke-width="0.95"/>
<line x1="858.36" y1="131.20" x2="875.86" y2="98.55" stroke="#858585" stroke-width="0.95"/>
<line x1="858.36" y1="114.88" x2="875.86" y2="82.22" stroke="#858585" stroke-width="0.95"/>
<line x1="858.36" y1="147.52" x2="875.86" y2="114.88" stroke="#858585" stroke-width="0.95"/>
<line x1="951.09" y1="131.20" x2="968.59" y2="114.88" stroke="#858585" stroke-width="0.95"/>
<line x1="951.09" y1="131.20" x2="968.59" y2="114.88" stroke="#858585" stroke-width="0.95"/>
<line x1="951.09" y1="147.52" x2="968.59" y2="131.20" stroke="#858585" stroke-width="0.95"/>
<line x1="951.09" y1="147.52" x2="968.59" y2="147.52" stroke="#858585" stroke-width="0.95"/>
<line x1="951.09" y1="163.85" x2="968.59" y2="147.52" stroke="#858585" stroke-width="0.95"/>
<line x1="951.09" y1="180.18" x2="968.59" y2="163.85" stroke="#858585" stroke-width="0.95"/>
<line x1="951.09" y1="180.18" x2="968.59" y2="163.85" stroke="#858585" stroke-width="0.95"/>
<line x1="951.09" y1="196.50" x2="968.59" y2="180.18" stroke="#858585" stroke-width="0.95"/>
<line x1="951.09" y1="180.18" x2="968.59" y2="147.52" stroke="#858585" stroke-width="0.95"/>
<line x1="951.09" y1="147.52" x2="968.59" y2="131.20" stroke="#858585" stroke-width="0.95"/>
<line x1="951.09" y1="180.18" x2="968.59" y2="163.85" stroke="#858585" stroke-width="0.95"/>
<line x1="655.40" y1="229.15" x2="672.90" y2="147.52" stroke="#404040" stroke-width="1.05"/>
<line x1="655.40" y1="245.47" x2="672.90" y2="229.15" stroke="#404040" stroke-width="1.05"/>
<line x1="655.40" y1="196.50" x2="672.90" y2="180.18" stroke="#404040" stroke-width="1.05"/>
<line x1="655.40" y1="196.50" x2="672.90" y2="180.18" stroke="#404040" stroke-width="1.05"/>
<line x1="655.40" y1="212.82" x2="672.90" y2="212.82" stroke="#404040" stroke-width="1.05"/>
<line x1="655.40" y1="212.82" x2="672.90" y2="196.50" stroke="#404040" stroke-width="1.05"/>
<line x1="655.40" y1="229.15" x2="672.90" y2="196.50" stroke="#404040" stroke-width="1.05"/>
<line x1="655.40" y1="196.50" x2="672.90" y2="196.50" stroke="#404040" stroke-width="1.05"/>
<line x1="655.40" y1="245.47" x2="672.90" y2="196.50" stroke="#404040" stroke-width="1.05"/>
<line x1="655.40" y1="212.82" x2="672.90" y2="212.82" stroke="#404040" stroke-width="1.05"/>
<line x1="748.13" y1="180.18" x2="765.63" y2="147.52" stroke="#404040" stroke-width="1.05"/>
<line x1="748.13" y1="212.82" x2="765.63" y2="147.52" stroke="#404040" stroke-width="1.05"/>
<line x1="748.13" y1="180.18" x2="765.63" y2="147.52" stroke="#404040" stroke-width="1.05"/>
<line x1="748.13" y1="180.18" x2="765.63" y2="163.85" stroke="#404040" stroke-width="1.05"/>
<line x1="748.13" y1="180.18" x2="765.63" y2="163.85" stroke="#404040" stroke-width="1.05"/>
<line x1="748.13" y1="196.50" x2="765.63" y2="180.18" stroke="#404040" stroke-width="1.05"/>
<line x1="748.13" y1="196.50" x2="765.63" y2="196.50" stroke="#404040" stroke-width="1.05"/>
<line x1="748.13" y1="229.15" x2="765.63" y2="196.50" stroke="#404040" stroke-width="1.05"/>
<line x1="748.13" y1="196.50" x2="765.63" y2="180.18" stroke="#404040" stroke-width="1.05"/>
<line x1="748.13" y1="180.18" x2="765.63" y2="180.18" stroke="#404040" stroke-width="1.05"/>
<line x1="840.86" y1="147.52" x2="858.36" y2="98.55" stroke="#404040" stroke-width="1.05"/>
<line x1="840.86" y1="147.52" x2="858.36" y2="114.88" stroke="#404040" stroke-width="1.05"/>
<line x1="840.86" y1="163.85" x2="858.36" y2="114.88" stroke="#404040" stroke-width="1.05"/>
<line x1="840.86" y1="163.85" x2="858.36" y2="131.20" stroke="#404040" stroke-width="1.05"/>
<line x1="840.86" y1="163.85" x2="858.36" y2="147.52" stroke="#404040" stroke-width="1.05"/>
<line x1="840.86" y1="180.18" x2="858.36" y2="131.20" stroke="#404040" stroke-width="1.05"/>
<line x1="840.86" y1="180.18" x2="858.36" y2="147.52" stroke="#404040" stroke-width="1.05"/>
<line x1="840.86" y1="147.52" x2="858.36" y2="131.20" stroke="#404040" stroke-width="1.05"/>
<line x1="840.86" y1="180.18" x2="858.36" y2="114.88" stroke="#404040" stroke-width="1.05"/>
<line x1="840.86" y1="163.85" x2="858.36" y2="147.52" stroke="#404040" stroke-width="1.05"/>
<line x1="933.59" y1="147.52" x2="951.09" y2="131.20" stroke="#404040" stroke-width="1.05"/>
<line x1="933.59" y1="147.52" x2="951.09" y2="131.20" stroke="#404040" stroke-width="1.05"/>
<line x1="933.59" y1="163.85" x2="951.09" y2="147.52" stroke="#404040" stroke-width="1.05"/>
<line x1="933.59" y1="180.18" x2="951.09" y2="147.52" stroke="#404040" stroke-width="1.05"/>
<line x1="933.59" y1="180.18" x2="951.09" y2="163.85" stroke="#404040" stroke-width="1.05"/>
<line x1="933.59" y1="180.18" x2="951.09" y2="180.18" stroke="#404040" stroke-width="1.05"/>
<line x1="933.59" y1="196.50" x2="951.09" y2="180.18" stroke="#404040" stroke-width="1.05"/>
<line x1="933.59" y1="196.50" x2="951.09" y2="196.50" stroke="#404040" stroke-width="1.05"/>
<line x1="933.59" y1="212.82" x2="951.09" y2="180.18" stroke="#404040" stroke-width="1.05"/>
<line x1="933.59" y1="180.18" x2="951.09" y2="147.52" stroke="#404040" stroke-width="1.05"/>
<line x1="933.59" y1="196.50" x2="951.09" y2="180.18" stroke="#404040" stroke-width="1.05"/>
<rect x="653.75" y="194.85" width="3.3" height="3.3" fill="#000"/>
<rect x="653.75" y="211.17" width="3.3" height="3.3" fill="#000"/>
<rect x="653.75" y="227.50" width="3.3" height="3.3" fill="#000"/>
<rect x="653.75" y="243.82" width="3.3" height="3.3" fill="#000"/>
<rect x="746.48" y="178.53" width="3.3" height="3.3" fill="#000"/>
<rect x="746.48" y="194.85" width="3.3" height="3.3" fill="#000"/>
<rect x="746.48" y="211.17" width="3.3" height="3.3" fill="#000"/>
<rect x="746.48" y="227.50" width="3.3" height="3.3" fill="#000"/>
<rect x="839.21" y="145.87" width="3.3" height="3.3" fill="#000"/>
<rect x="839.21" y="162.20" width="3.3" height="3.3" fill="#000"/>
<rect x="839.21" y="178.53" width="3.3" height="3.3" fill="#000"/>
<rect x="931.94" y="145.87" width="3.3" height="3.3" fill="#000"/>
<rect x="931.94" y="162.20" width="3.3" height="3.3" fill="#000"/>
<rect x="931.94" y="178.53" width="3.3" height="3.3" fill="#000"/>
<rect x="931.94" y="194.85" width="3.3" height="3.3" fill="#000"/>
<rect x="931.94" y="211.17" width="3.3" height="3.3" fill="#000"/>
<rect x="671.50" y="146.12" width="2.8" height="2.8" fill="#505050"/>
<rect x="671.50" y="178.78" width="2.8" height="2.8" fill="#505050"/>
<rect x="671.50" y="195.10" width="2.8" height="2.8" fill="#505050"/>
<rect x="671.50" y="211.42" width="2.8" height="2.8" fill="#505050"/>
<rect x="671.50" y="227.75" width="2.8" height="2.8" fill="#505050"/>
<rect x="764.23" y="146.12" width="2.8" height="2.8" fill="#505050"/>
<rect x="764.23" y="162.45" width="2.8" height="2.8" fill="#505050"/>
<rect x="764.23" y="178.78" width="2.8" height="2.8" fill="#505050"/>
<rect x="764.23" y="195.10" width="2.8" height="2.8" fill="#505050"/>
<rect x="856.96" y="97.15" width="2.8" height="2.8" fill="#505050"/>
<rect x="856.96" y="113.48" width="2.8" height="2.8" fill="#505050"/>
<rect x="856.96" y="129.80" width="2.8" height="2.8" fill="#505050"/>
<rect x="856.96" y="146.12" width="2.8" height="2.8" fill="#505050"/>
<rect x="949.69" y="129.80" width="2.8" height="2.8" fill="#505050"/>
<rect x="949.69" y="146.12" width="2.8" height="2.8" fill="#505050"/>
<rect x="949.69" y="162.45" width="2.8" height="2.8" fill="#505050"/>
<rect x="949.69" y="178.78" width="2.8" height="2.8" fill="#505050"/>
<rect x="949.69" y="195.10" width="2.8" height="2.8" fill="#505050"/>
<rect x="689.00" y="129.80" width="2.8" height="2.8" fill="#8c8c8c"/>
<rect x="689.00" y="162.45" width="2.8" height="2.8" fill="#8c8c8c"/>
<rect x="689.00" y="178.78" width="2.8" height="2.8" fill="#8c8c8c"/>
<rect x="689.00" y="195.10" width="2.8" height="2.8" fill="#8c8c8c"/>
<rect x="689.00" y="227.75" width="2.8" height="2.8" fill="#8c8c8c"/>
<rect x="781.73" y="113.48" width="2.8" height="2.8" fill="#8c8c8c"/>
<rect x="781.73" y="129.80" width="2.8" height="2.8" fill="#8c8c8c"/>
<rect x="781.73" y="146.12" width="2.8" height="2.8" fill="#8c8c8c"/>
<rect x="781.73" y="162.45" width="2.8" height="2.8" fill="#8c8c8c"/>
<rect x="781.73" y="178.78" width="2.8" height="2.8" fill="#8c8c8c"/>
<rect x="874.46" y="80.82" width="2.8" height="2.8" fill="#8c8c8c"/>
<rect x="874.46" y="97.15" width="2.8" height="2.8" fill="#8c8c8c"/>
<rect x="874.46" y="113.48" width="2.8" height="2.8" fill="#8c8c8c"/>
<rect x="874.46" y="129.80" width="2.8" height="2.8" fill="#8c8c8c"/>
<rect x="967.19" y="113.48" width="2.8" height="2.8" fill="#8c8c8c"/>
<rect x="967.19" y="129.80" width="2.8" height="2.8" fill="#8c8c8c"/>
<rect x="967.19" y="146.12" width="2.8" height="2.8" fill="#8c8c8c"/>
<rect x="967.19" y="162.45" width="2.8" height="2.8" fill="#8c8c8c"/>
<rect x="967.19" y="178.78" width="2.8" height="2.8" fill="#8c8c8c"/>
<rect x="706.25" y="129.55" width="3.3" height="3.3" fill="#000"/>
<rect x="706.25" y="145.87" width="3.3" height="3.3" fill="#000"/>
<rect x="706.25" y="162.20" width="3.3" height="3.3" fill="#000"/>
<rect x="706.25" y="178.53" width="3.3" height="3.3" fill="#000"/>
<rect x="706.25" y="194.85" width="3.3" height="3.3" fill="#000"/>
<rect x="706.25" y="211.17" width="3.3" height="3.3" fill="#000"/>
<rect x="798.98" y="96.90" width="3.3" height="3.3" fill="#000"/>
<rect x="798.98" y="113.23" width="3.3" height="3.3" fill="#000"/>
<rect x="798.98" y="129.55" width="3.3" height="3.3" fill="#000"/>
<rect x="798.98" y="145.87" width="3.3" height="3.3" fill="#000"/>
<rect x="798.98" y="162.20" width="3.3" height="3.3" fill="#000"/>
<rect x="798.98" y="178.53" width="3.3" height="3.3" fill="#000"/>
<rect x="891.71" y="64.25" width="3.3" height="3.3" fill="#000"/>
<rect x="891.71" y="80.57" width="3.3" height="3.3" fill="#000"/>
<rect x="891.71" y="96.90" width="3.3" height="3.3" fill="#000"/>
<rect x="984.44" y="96.90" width="3.3" height="3.3" fill="#000"/>
<rect x="984.44" y="113.23" width="3.3" height="3.3" fill="#000"/>
<rect x="984.44" y="129.55" width="3.3" height="3.3" fill="#000"/>
<rect x="984.44" y="145.87" width="3.3" height="3.3" fill="#000"/>
<rect x="984.44" y="162.20" width="3.3" height="3.3" fill="#000"/>
<line x1="690.40" y1="550.03" x2="707.90" y2="550.03" stroke="#bdbdbd" stroke-width="0.95"/>
<line x1="690.40" y1="570.80" x2="707.90" y2="570.80" stroke="#bdbdbd" stroke-width="0.95"/>
<line x1="690.40" y1="560.42" x2="707.90" y2="560.42" stroke="#bdbdbd" stroke-width="0.95"/>
<line x1="690.40" y1="581.19" x2="707.90" y2="550.03" stroke="#bdbdbd" stroke-width="0.95"/>
<line x1="690.40" y1="550.03" x2="707.90" y2="560.42" stroke="#bdbdbd" stroke-width="0.95"/>
<line x1="690.40" y1="570.80" x2="707.90" y2="560.42" stroke="#bdbdbd" stroke-width="0.95"/>
<line x1="690.40" y1="570.80" x2="707.90" y2="570.80" stroke="#bdbdbd" stroke-width="0.95"/>
<line x1="690.40" y1="581.19" x2="707.90" y2="570.80" stroke="#bdbdbd" stroke-width="0.95"/>
<line x1="690.40" y1="581.19" x2="707.90" y2="581.19" stroke="#bdbdbd" stroke-width="0.95"/>
<line x1="783.13" y1="508.49" x2="800.63" y2="466.94" stroke="#bdbdbd" stroke-width="0.95"/>
<line x1="783.13" y1="529.26" x2="800.63" y2="529.26" stroke="#bdbdbd" stroke-width="0.95"/>
<line x1="783.13" y1="529.26" x2="800.63" y2="508.49" stroke="#bdbdbd" stroke-width="0.95"/>
<line x1="783.13" y1="529.26" x2="800.63" y2="487.71" stroke="#bdbdbd" stroke-width="0.95"/>
<line x1="783.13" y1="550.03" x2="800.63" y2="550.03" stroke="#bdbdbd" stroke-width="0.95"/>
<line x1="783.13" y1="529.26" x2="800.63" y2="487.71" stroke="#bdbdbd" stroke-width="0.95"/>
<line x1="783.13" y1="560.42" x2="800.63" y2="560.42" stroke="#bdbdbd" stroke-width="0.95"/>
<line x1="783.13" y1="508.49" x2="800.63" y2="487.71" stroke="#bdbdbd" stroke-width="0.95"/>
<line x1="783.13" y1="529.26" x2="800.63" y2="529.26" stroke="#bdbdbd" stroke-width="0.95"/>
<line x1="783.13" y1="550.03" x2="800.63" y2="529.26" stroke="#bdbdbd" stroke-width="0.95"/>
<line x1="875.86" y1="466.94" x2="893.36" y2="446.17" stroke="#bdbdbd" stroke-width="0.95"/>
<line x1="875.86" y1="466.94" x2="893.36" y2="446.17" stroke="#bdbdbd" stroke-width="0.95"/>
<line x1="875.86" y1="487.71" x2="893.36" y2="466.94" stroke="#bdbdbd" stroke-width="0.95"/>
<line x1="875.86" y1="508.49" x2="893.36" y2="446.17" stroke="#bdbdbd" stroke-width="0.95"/>
<line x1="875.86" y1="487.71" x2="893.36" y2="446.17" stroke="#bdbdbd" stroke-width="0.95"/>
<line x1="875.86" y1="508.49" x2="893.36" y2="498.10" stroke="#bdbdbd" stroke-width="0.95"/>
<line x1="875.86" y1="508.49" x2="893.36" y2="487.71" stroke="#bdbdbd" stroke-width="0.95"/>
<line x1="875.86" y1="487.71" x2="893.36" y2="466.94" stroke="#bdbdbd" stroke-width="0.95"/>
<line x1="968.59" y1="529.26" x2="986.09" y2="529.26" stroke="#bdbdbd" stroke-width="0.95"/>
<line x1="968.59" y1="550.03" x2="986.09" y2="550.03" stroke="#bdbdbd" stroke-width="0.95"/>
<line x1="968.59" y1="550.03" x2="986.09" y2="550.03" stroke="#bdbdbd" stroke-width="0.95"/>
<line x1="968.59" y1="550.03" x2="986.09" y2="529.26" stroke="#bdbdbd" stroke-width="0.95"/>
<line x1="968.59" y1="570.80" x2="986.09" y2="560.42" stroke="#bdbdbd" stroke-width="0.95"/>
<line x1="968.59" y1="591.58" x2="986.09" y2="570.80" stroke="#bdbdbd" stroke-width="0.95"/>
<line x1="968.59" y1="570.80" x2="986.09" y2="550.03" stroke="#bdbdbd" stroke-width="0.95"/>
<line x1="968.59" y1="591.58" x2="986.09" y2="570.80" stroke="#bdbdbd" stroke-width="0.95"/>
<line x1="968.59" y1="581.19" x2="986.09" y2="570.80" stroke="#bdbdbd" stroke-width="0.95"/>
<line x1="968.59" y1="560.42" x2="986.09" y2="560.42" stroke="#bdbdbd" stroke-width="0.95"/>
<line x1="968.59" y1="581.19" x2="986.09" y2="570.80" stroke="#bdbdbd" stroke-width="0.95"/>
<line x1="672.90" y1="550.03" x2="690.40" y2="550.03" stroke="#858585" stroke-width="0.95"/>
<line x1="672.90" y1="570.80" x2="690.40" y2="570.80" stroke="#858585" stroke-width="0.95"/>
<line x1="672.90" y1="570.80" x2="690.40" y2="560.42" stroke="#858585" stroke-width="0.95"/>
<line x1="672.90" y1="560.42" x2="690.40" y2="581.19" stroke="#858585" stroke-width="0.95"/>
<line x1="672.90" y1="570.80" x2="690.40" y2="550.03" stroke="#858585" stroke-width="0.95"/>
<line x1="672.90" y1="591.58" x2="690.40" y2="570.80" stroke="#858585" stroke-width="0.95"/>
<line x1="672.90" y1="570.80" x2="690.40" y2="570.80" stroke="#858585" stroke-width="0.95"/>
<line x1="672.90" y1="560.42" x2="690.40" y2="581.19" stroke="#858585" stroke-width="0.95"/>
<line x1="672.90" y1="560.42" x2="690.40" y2="581.19" stroke="#858585" stroke-width="0.95"/>
<line x1="765.63" y1="529.26" x2="783.13" y2="508.49" stroke="#858585" stroke-width="0.95"/>
<line x1="765.63" y1="529.26" x2="783.13" y2="529.26" stroke="#858585" stroke-width="0.95"/>
<line x1="765.63" y1="550.03" x2="783.13" y2="529.26" stroke="#858585" stroke-width="0.95"/>
<line x1="765.63" y1="550.03" x2="783.13" y2="529.26" stroke="#858585" stroke-width="0.95"/>
<line x1="765.63" y1="560.42" x2="783.13" y2="550.03" stroke="#858585" stroke-width="0.95"/>
<line x1="765.63" y1="560.42" x2="783.13" y2="529.26" stroke="#858585" stroke-width="0.95"/>
<line x1="765.63" y1="570.80" x2="783.13" y2="560.42" stroke="#858585" stroke-width="0.95"/>
<line x1="765.63" y1="529.26" x2="783.13" y2="508.49" stroke="#858585" stroke-width="0.95"/>
<line x1="765.63" y1="550.03" x2="783.13" y2="529.26" stroke="#858585" stroke-width="0.95"/>
<line x1="765.63" y1="560.42" x2="783.13" y2="550.03" stroke="#858585" stroke-width="0.95"/>
<line x1="858.36" y1="487.71" x2="875.86" y2="466.94" stroke="#858585" stroke-width="0.95"/>
<line x1="858.36" y1="508.49" x2="875.86" y2="466.94" stroke="#858585" stroke-width="0.95"/>
<line x1="858.36" y1="508.49" x2="875.86" y2="487.71" stroke="#858585" stroke-width="0.95"/>
<line x1="858.36" y1="550.03" x2="875.86" y2="508.49" stroke="#858585" stroke-width="0.95"/>
<line x1="858.36" y1="529.26" x2="875.86" y2="487.71" stroke="#858585" stroke-width="0.95"/>
<line x1="858.36" y1="529.26" x2="875.86" y2="508.49" stroke="#858585" stroke-width="0.95"/>
<line x1="858.36" y1="529.26" x2="875.86" y2="508.49" stroke="#858585" stroke-width="0.95"/>
<line x1="858.36" y1="529.26" x2="875.86" y2="487.71" stroke="#858585" stroke-width="0.95"/>
<line x1="951.09" y1="529.26" x2="968.59" y2="529.26" stroke="#858585" stroke-width="0.95"/>
<line x1="951.09" y1="550.03" x2="968.59" y2="550.03" stroke="#858585" stroke-width="0.95"/>
<line x1="951.09" y1="560.42" x2="968.59" y2="550.03" stroke="#858585" stroke-width="0.95"/>
<line x1="951.09" y1="570.80" x2="968.59" y2="550.03" stroke="#858585" stroke-width="0.95"/>
<line x1="951.09" y1="581.19" x2="968.59" y2="570.80" stroke="#858585" stroke-width="0.95"/>
<line x1="951.09" y1="591.58" x2="968.59" y2="591.58" stroke="#858585" stroke-width="0.95"/>
<line x1="951.09" y1="591.58" x2="968.59" y2="570.80" stroke="#858585" stroke-width="0.95"/>
<line x1="951.09" y1="601.96" x2="968.59" y2="591.58" stroke="#858585" stroke-width="0.95"/>
<line x1="951.09" y1="591.58" x2="968.59" y2="581.19" stroke="#858585" stroke-width="0.95"/>
<line x1="951.09" y1="581.19" x2="968.59" y2="560.42" stroke="#858585" stroke-width="0.95"/>
<line x1="951.09" y1="581.19" x2="968.59" y2="581.19" stroke="#858585" stroke-width="0.95"/>
<line x1="655.40" y1="570.80" x2="672.90" y2="550.03" stroke="#404040" stroke-width="1.05"/>
<line x1="655.40" y1="570.80" x2="672.90" y2="570.80" stroke="#404040" stroke-width="1.05"/>
<line x1="655.40" y1="581.19" x2="672.90" y2="570.80" stroke="#404040" stroke-width="1.05"/>
<line x1="655.40" y1="591.58" x2="672.90" y2="560.42" stroke="#404040" stroke-width="1.05"/>
<line x1="655.40" y1="591.58" x2="672.90" y2="570.80" stroke="#404040" stroke-width="1.05"/>
<line x1="655.40" y1="591.58" x2="672.90" y2="591.58" stroke="#404040" stroke-width="1.05"/>
<line x1="655.40" y1="591.58" x2="672.90" y2="570.80" stroke="#404040" stroke-width="1.05"/>
<line x1="655.40" y1="591.58" x2="672.90" y2="560.42" stroke="#404040" stroke-width="1.05"/>
<line x1="655.40" y1="591.58" x2="672.90" y2="560.42" stroke="#404040" stroke-width="1.05"/>
<line x1="748.13" y1="550.03" x2="765.63" y2="529.26" stroke="#404040" stroke-width="1.05"/>
<line x1="748.13" y1="570.80" x2="765.63" y2="529.26" stroke="#404040" stroke-width="1.05"/>
<line x1="748.13" y1="560.42" x2="765.63" y2="550.03" stroke="#404040" stroke-width="1.05"/>
<line x1="748.13" y1="570.80" x2="765.63" y2="550.03" stroke="#404040" stroke-width="1.05"/>
<line x1="748.13" y1="570.80" x2="765.63" y2="560.42" stroke="#404040" stroke-width="1.05"/>
<line x1="748.13" y1="591.58" x2="765.63" y2="560.42" stroke="#404040" stroke-width="1.05"/>
<line x1="748.13" y1="591.58" x2="765.63" y2="570.80" stroke="#404040" stroke-width="1.05"/>
<line x1="748.13" y1="570.80" x2="765.63" y2="529.26" stroke="#404040" stroke-width="1.05"/>
<line x1="748.13" y1="560.42" x2="765.63" y2="550.03" stroke="#404040" stroke-width="1.05"/>
<line x1="748.13" y1="570.80" x2="765.63" y2="560.42" stroke="#404040" stroke-width="1.05"/>
<line x1="840.86" y1="508.49" x2="858.36" y2="487.71" stroke="#404040" stroke-width="1.05"/>
<line x1="840.86" y1="508.49" x2="858.36" y2="508.49" stroke="#404040" stroke-width="1.05"/>
<line x1="840.86" y1="550.03" x2="858.36" y2="508.49" stroke="#404040" stroke-width="1.05"/>
<line x1="840.86" y1="550.03" x2="858.36" y2="550.03" stroke="#404040" stroke-width="1.05"/>
<line x1="840.86" y1="560.42" x2="858.36" y2="529.26" stroke="#404040" stroke-width="1.05"/>
<line x1="840.86" y1="570.80" x2="858.36" y2="529.26" stroke="#404040" stroke-width="1.05"/>
<line x1="840.86" y1="550.03" x2="858.36" y2="529.26" stroke="#404040" stroke-width="1.05"/>
<line x1="840.86" y1="550.03" x2="858.36" y2="529.26" stroke="#404040" stroke-width="1.05"/>
<line x1="933.59" y1="550.03" x2="951.09" y2="529.26" stroke="#404040" stroke-width="1.05"/>
<line x1="933.59" y1="560.42" x2="951.09" y2="550.03" stroke="#404040" stroke-width="1.05"/>
<line x1="933.59" y1="560.42" x2="951.09" y2="560.42" stroke="#404040" stroke-width="1.05"/>
<line x1="933.59" y1="570.80" x2="951.09" y2="570.80" stroke="#404040" stroke-width="1.05"/>
<line x1="933.59" y1="591.58" x2="951.09" y2="581.19" stroke="#404040" stroke-width="1.05"/>
<line x1="933.59" y1="591.58" x2="951.09" y2="591.58" stroke="#404040" stroke-width="1.05"/>
<line x1="933.59" y1="612.35" x2="951.09" y2="591.58" stroke="#404040" stroke-width="1.05"/>
<line x1="933.59" y1="601.96" x2="951.09" y2="601.96" stroke="#404040" stroke-width="1.05"/>
<line x1="933.59" y1="601.96" x2="951.09" y2="591.58" stroke="#404040" stroke-width="1.05"/>
<line x1="933.59" y1="591.58" x2="951.09" y2="581.19" stroke="#404040" stroke-width="1.05"/>
<line x1="933.59" y1="591.58" x2="951.09" y2="581.19" stroke="#404040" stroke-width="1.05"/>
<rect x="653.75" y="569.15" width="3.3" height="3.3" fill="#000"/>
<rect x="653.75" y="579.54" width="3.3" height="3.3" fill="#000"/>
<rect x="653.75" y="589.93" width="3.3" height="3.3" fill="#000"/>
<rect x="746.48" y="548.38" width="3.3" height="3.3" fill="#000"/>
<rect x="746.48" y="558.77" width="3.3" height="3.3" fill="#000"/>
<rect x="746.48" y="569.15" width="3.3" height="3.3" fill="#000"/>
<rect x="746.48" y="589.93" width="3.3" height="3.3" fill="#000"/>
<rect x="839.21" y="506.84" width="3.3" height="3.3" fill="#000"/>
<rect x="839.21" y="548.38" width="3.3" height="3.3" fill="#000"/>
<rect x="839.21" y="558.77" width="3.3" height="3.3" fill="#000"/>
<rect x="839.21" y="569.15" width="3.3" height="3.3" fill="#000"/>
<rect x="931.94" y="548.38" width="3.3" height="3.3" fill="#000"/>
<rect x="931.94" y="558.77" width="3.3" height="3.3" fill="#000"/>
<rect x="931.94" y="569.15" width="3.3" height="3.3" fill="#000"/>
<rect x="931.94" y="589.93" width="3.3" height="3.3" fill="#000"/>
<rect x="931.94" y="600.31" width="3.3" height="3.3" fill="#000"/>
<rect x="931.94" y="610.70" width="3.3" height="3.3" fill="#000"/>
<rect x="671.50" y="548.63" width="2.8" height="2.8" fill="#505050"/>
<rect x="671.50" y="559.02" width="2.8" height="2.8" fill="#505050"/>
<rect x="671.50" y="569.40" width="2.8" height="2.8" fill="#505050"/>
<rect x="671.50" y="590.18" width="2.8" height="2.8" fill="#505050"/>
<rect x="764.23" y="527.86" width="2.8" height="2.8" fill="#505050"/>
<rect x="764.23" y="548.63" width="2.8" height="2.8" fill="#505050"/>
<rect x="764.23" y="559.02" width="2.8" height="2.8" fill="#505050"/>
<rect x="764.23" y="569.40" width="2.8" height="2.8" fill="#505050"/>
<rect x="856.96" y="486.31" width="2.8" height="2.8" fill="#505050"/>
<rect x="856.96" y="507.09" width="2.8" height="2.8" fill="#505050"/>
<rect x="856.96" y="527.86" width="2.8" height="2.8" fill="#505050"/>
<rect x="856.96" y="548.63" width="2.8" height="2.8" fill="#505050"/>
<rect x="949.69" y="527.86" width="2.8" height="2.8" fill="#505050"/>
<rect x="949.69" y="548.63" width="2.8" height="2.8" fill="#505050"/>
<rect x="949.69" y="559.02" width="2.8" height="2.8" fill="#505050"/>
<rect x="949.69" y="569.40" width="2.8" height="2.8" fill="#505050"/>
<rect x="949.69" y="579.79" width="2.8" height="2.8" fill="#505050"/>
<rect x="949.69" y="590.18" width="2.8" height="2.8" fill="#505050"/>
<rect x="949.69" y="600.56" width="2.8" height="2.8" fill="#505050"/>
<rect x="689.00" y="548.63" width="2.8" height="2.8" fill="#8c8c8c"/>
<rect x="689.00" y="559.02" width="2.8" height="2.8" fill="#8c8c8c"/>
<rect x="689.00" y="569.40" width="2.8" height="2.8" fill="#8c8c8c"/>
<rect x="689.00" y="579.79" width="2.8" height="2.8" fill="#8c8c8c"/>
<rect x="781.73" y="507.09" width="2.8" height="2.8" fill="#8c8c8c"/>
<rect x="781.73" y="527.86" width="2.8" height="2.8" fill="#8c8c8c"/>
<rect x="781.73" y="548.63" width="2.8" height="2.8" fill="#8c8c8c"/>
<rect x="781.73" y="559.02" width="2.8" height="2.8" fill="#8c8c8c"/>
<rect x="874.46" y="465.54" width="2.8" height="2.8" fill="#8c8c8c"/>
<rect x="874.46" y="486.31" width="2.8" height="2.8" fill="#8c8c8c"/>
<rect x="874.46" y="507.09" width="2.8" height="2.8" fill="#8c8c8c"/>
<rect x="967.19" y="527.86" width="2.8" height="2.8" fill="#8c8c8c"/>
<rect x="967.19" y="548.63" width="2.8" height="2.8" fill="#8c8c8c"/>
<rect x="967.19" y="559.02" width="2.8" height="2.8" fill="#8c8c8c"/>
<rect x="967.19" y="569.40" width="2.8" height="2.8" fill="#8c8c8c"/>
<rect x="967.19" y="579.79" width="2.8" height="2.8" fill="#8c8c8c"/>
<rect x="967.19" y="590.18" width="2.8" height="2.8" fill="#8c8c8c"/>
<rect x="706.25" y="548.38" width="3.3" height="3.3" fill="#000"/>
<rect x="706.25" y="558.77" width="3.3" height="3.3" fill="#000"/>
<rect x="706.25" y="569.15" width="3.3" height="3.3" fill="#000"/>
<rect x="706.25" y="579.54" width="3.3" height="3.3" fill="#000"/>
<rect x="798.98" y="465.29" width="3.3" height="3.3" fill="#000"/>
<rect x="798.98" y="486.06" width="3.3" height="3.3" fill="#000"/>
<rect x="798.98" y="506.84" width="3.3" height="3.3" fill="#000"/>
<rect x="798.98" y="527.61" width="3.3" height="3.3" fill="#000"/>
<rect x="798.98" y="548.38" width="3.3" height="3.3" fill="#000"/>
<rect x="798.98" y="558.77" width="3.3" height="3.3" fill="#000"/>
<rect x="891.71" y="444.52" width="3.3" height="3.3" fill="#000"/>
<rect x="891.71" y="465.29" width="3.3" height="3.3" fill="#000"/>
<rect x="891.71" y="486.06" width="3.3" height="3.3" fill="#000"/>
<rect x="891.71" y="496.45" width="3.3" height="3.3" fill="#000"/>
<rect x="984.44" y="527.61" width="3.3" height="3.3" fill="#000"/>
<rect x="984.44" y="548.38" width="3.3" height="3.3" fill="#000"/>
<rect x="984.44" y="558.77" width="3.3" height="3.3" fill="#000"/>
<rect x="984.44" y="569.15" width="3.3" height="3.3" fill="#000"/>
<rect x="335.1" y="696.2" width="25.3" height="10.2" fill="#000"/>
<text x="373.0" y="706.3" class="lg" style="fill:#0a0a0a;stroke:#0a0a0a">Set 1</text>
<rect x="460.2" y="696.2" width="25.3" height="10.2" fill="#4f4f4f"/>
<text x="497.0" y="706.3" class="lg" style="fill:#b9b9b9;stroke:#b9b9b9">Set 2</text>
<rect x="583.4" y="696.2" width="25.3" height="10.2" fill="#999"/>
<text x="620.6" y="706.3" class="lg" style="fill:#0a0a0a;stroke:#0a0a0a">Set 3</text>
<rect x="699.6" y="696.2" width="25.3" height="10.2" fill="#d4d4d4"/>
<text x="736.4" y="706.3" class="lg" style="fill:#0a0a0a;stroke:#0a0a0a">Set 4</text>
</g>
<g filter="url(#bl)">
<rect width="1109" height="737" fill="#fff"/>
<text x="332" y="20.9" text-anchor="middle" class="ttl">A</text>
<text x="332" y="372.5" text-anchor="middle" class="ttl">B</text>
<text x="823.5" y="21.2" text-anchor="middle" class="ttl">C</text>
<text x="823" y="372.5" text-anchor="middle" class="ttl">D</text>
<text transform="translate(69.8,180) rotate(-90)" text-anchor="middle" class="yl">RPE (au)</text>
<text transform="translate(71.2,498.5) rotate(-90)" text-anchor="middle" class="yl">Muscle discomfort (au)</text>
<text transform="translate(562.70,180.5) rotate(-90)" text-anchor="middle" class="yl">RPE (au)</text>
<text transform="translate(563.00,498.5) rotate(-90)" text-anchor="middle" class="yl">Muscle discomfort (au)</text>
<line x1="132.00" y1="64.90" x2="132.00" y2="295.45" stroke="#000" stroke-width="2.4"/>
<line x1="124.20" y1="294.45" x2="132.00" y2="294.45" stroke="#000" stroke-width="2.0"/>
<text x="123.40" y="298.65" text-anchor="end" class="tk">6.00</text>
<line x1="127.20" y1="278.12" x2="132.00" y2="278.12" stroke="#000" stroke-width="2.0"/>
<line x1="124.20" y1="261.80" x2="132.00" y2="261.80" stroke="#000" stroke-width="2.0"/>
<text x="123.40" y="266.00" text-anchor="end" class="tk">8.00</text>
<line x1="127.20" y1="245.47" x2="132.00" y2="245.47" stroke="#000" stroke-width="2.0"/>
<line x1="124.20" y1="229.15" x2="132.00" y2="229.15" stroke="#000" stroke-width="2.0"/>
<text x="123.40" y="233.35" text-anchor="end" class="tk">10.00</text>
<line x1="127.20" y1="212.82" x2="132.00" y2="212.82" stroke="#000" stroke-width="2.0"/>
<line x1="124.20" y1="196.50" x2="132.00" y2="196.50" stroke="#000" stroke-width="2.0"/>
<text x="123.40" y="200.70" text-anchor="end" class="tk">12.00</text>
<line x1="127.20" y1="180.18" x2="132.00" y2="180.18" stroke="#000" stroke-width="2.0"/>
<line x1="124.20" y1="163.85" x2="132.00" y2="163.85" stroke="#000" stroke-width="2.0"/>
<text x="123.40" y="168.05" text-anchor="end" class="tk">14.00</text>
<line x1="127.20" y1="147.52" x2="132.00" y2="147.52" stroke="#000" stroke-width="2.0"/>
<line x1="124.20" y1="131.20" x2="132.00" y2="131.20" stroke="#000" stroke-width="2.0"/>
<text x="123.40" y="135.40" text-anchor="end" class="tk">16.00</text>
<line x1="127.20" y1="114.88" x2="132.00" y2="114.88" stroke="#000" stroke-width="2.0"/>
<line x1="124.20" y1="98.55" x2="132.00" y2="98.55" stroke="#000" stroke-width="2.0"/>
<text x="123.40" y="102.75" text-anchor="end" class="tk">18.00</text>
<line x1="127.20" y1="82.22" x2="132.00" y2="82.22" stroke="#000" stroke-width="2.0"/>
<line x1="124.20" y1="65.90" x2="132.00" y2="65.90" stroke="#000" stroke-width="2.0"/>
<text x="123.40" y="70.10" text-anchor="end" class="tk">20.00</text>
<line x1="153.00" y1="315.00" x2="506.70" y2="315.00" stroke="#000" stroke-width="2.4"/>
<line x1="190.25" y1="315.00" x2="190.25" y2="323.00" stroke="#000" stroke-width="2.0"/>
<text x="190.25" y="333.60" text-anchor="middle" class="tk">LLRE</text>
<line x1="282.98" y1="315.00" x2="282.98" y2="323.00" stroke="#000" stroke-width="2.0"/>
<text x="282.98" y="333.60" text-anchor="middle" class="tk">BFR40</text>
<line x1="375.71" y1="315.00" x2="375.71" y2="323.00" stroke="#000" stroke-width="2.0"/>
<text x="375.71" y="333.60" text-anchor="middle" class="tk">BFR80</text>
<line x1="468.44" y1="315.00" x2="468.44" y2="323.00" stroke="#000" stroke-width="2.0"/>
<text x="468.44" y="333.60" text-anchor="middle" class="tk">HLRE</text>
<line x1="132.00" y1="382.85" x2="132.00" y2="613.35" stroke="#000" stroke-width="2.4"/>
<line x1="124.20" y1="612.35" x2="132.00" y2="612.35" stroke="#000" stroke-width="2.0"/>
<text x="123.40" y="616.55" text-anchor="end" class="tk">0.00</text>
<line x1="127.20" y1="601.96" x2="132.00" y2="601.96" stroke="#000" stroke-width="2.0"/>
<line x1="124.20" y1="591.58" x2="132.00" y2="591.58" stroke="#000" stroke-width="2.0"/>
<text x="123.40" y="595.78" text-anchor="end" class="tk">1.00</text>
<line x1="127.20" y1="581.19" x2="132.00" y2="581.19" stroke="#000" stroke-width="2.0"/>
<line x1="124.20" y1="570.80" x2="132.00" y2="570.80" stroke="#000" stroke-width="2.0"/>
<text x="123.40" y="575.00" text-anchor="end" class="tk">2.00</text>
<line x1="127.20" y1="560.42" x2="132.00" y2="560.42" stroke="#000" stroke-width="2.0"/>
<line x1="124.20" y1="550.03" x2="132.00" y2="550.03" stroke="#000" stroke-width="2.0"/>
<text x="123.40" y="554.23" text-anchor="end" class="tk">3.00</text>
<line x1="127.20" y1="539.65" x2="132.00" y2="539.65" stroke="#000" stroke-width="2.0"/>
<line x1="124.20" y1="529.26" x2="132.00" y2="529.26" stroke="#000" stroke-width="2.0"/>
<text x="123.40" y="533.46" text-anchor="end" class="tk">4.00</text>
<line x1="127.20" y1="518.87" x2="132.00" y2="518.87" stroke="#000" stroke-width="2.0"/>
<line x1="124.20" y1="508.49" x2="132.00" y2="508.49" stroke="#000" stroke-width="2.0"/>
<text x="123.40" y="512.69" text-anchor="end" class="tk">5.00</text>
<line x1="127.20" y1="498.10" x2="132.00" y2="498.10" stroke="#000" stroke-width="2.0"/>
<line x1="124.20" y1="487.71" x2="132.00" y2="487.71" stroke="#000" stroke-width="2.0"/>
<text x="123.40" y="491.91" text-anchor="end" class="tk">6.00</text>
<line x1="127.20" y1="477.33" x2="132.00" y2="477.33" stroke="#000" stroke-width="2.0"/>
<line x1="124.20" y1="466.94" x2="132.00" y2="466.94" stroke="#000" stroke-width="2.0"/>
<text x="123.40" y="471.14" text-anchor="end" class="tk">7.00</text>
<line x1="127.20" y1="456.55" x2="132.00" y2="456.55" stroke="#000" stroke-width="2.0"/>
<line x1="124.20" y1="446.17" x2="132.00" y2="446.17" stroke="#000" stroke-width="2.0"/>
<text x="123.40" y="450.37" text-anchor="end" class="tk">8.00</text>
<line x1="127.20" y1="435.78" x2="132.00" y2="435.78" stroke="#000" stroke-width="2.0"/>
<line x1="124.20" y1="425.40" x2="132.00" y2="425.40" stroke="#000" stroke-width="2.0"/>
<text x="123.40" y="429.60" text-anchor="end" class="tk">9.00</text>
<line x1="127.20" y1="415.01" x2="132.00" y2="415.01" stroke="#000" stroke-width="2.0"/>
<line x1="124.20" y1="404.62" x2="132.00" y2="404.62" stroke="#000" stroke-width="2.0"/>
<text x="123.40" y="408.82" text-anchor="end" class="tk">10.00</text>
<line x1="127.20" y1="394.24" x2="132.00" y2="394.24" stroke="#000" stroke-width="2.0"/>
<line x1="124.20" y1="383.85" x2="132.00" y2="383.85" stroke="#000" stroke-width="2.0"/>
<text x="123.40" y="388.05" text-anchor="end" class="tk">11.00</text>
<line x1="153.00" y1="632.95" x2="506.70" y2="632.95" stroke="#000" stroke-width="2.4"/>
<line x1="190.25" y1="632.95" x2="190.25" y2="640.95" stroke="#000" stroke-width="2.0"/>
<text x="190.25" y="651.55" text-anchor="middle" class="tk">LLRE</text>
<line x1="282.98" y1="632.95" x2="282.98" y2="640.95" stroke="#000" stroke-width="2.0"/>
<text x="282.98" y="651.55" text-anchor="middle" class="tk">BFR40</text>
<line x1="375.71" y1="632.95" x2="375.71" y2="640.95" stroke="#000" stroke-width="2.0"/>
<text x="375.71" y="651.55" text-anchor="middle" class="tk">BFR80</text>
<line x1="468.44" y1="632.95" x2="468.44" y2="640.95" stroke="#000" stroke-width="2.0"/>
<text x="468.44" y="651.55" text-anchor="middle" class="tk">HLRE</text>
<line x1="623.40" y1="64.90" x2="623.40" y2="295.45" stroke="#000" stroke-width="2.4"/>
<line x1="615.60" y1="294.45" x2="623.40" y2="294.45" stroke="#000" stroke-width="2.0"/>
<text x="614.80" y="298.65" text-anchor="end" class="tk">6.00</text>
<line x1="618.60" y1="278.12" x2="623.40" y2="278.12" stroke="#000" stroke-width="2.0"/>
<line x1="615.60" y1="261.80" x2="623.40" y2="261.80" stroke="#000" stroke-width="2.0"/>
<text x="614.80" y="266.00" text-anchor="end" class="tk">8.00</text>
<line x1="618.60" y1="245.47" x2="623.40" y2="245.47" stroke="#000" stroke-width="2.0"/>
<line x1="615.60" y1="229.15" x2="623.40" y2="229.15" stroke="#000" stroke-width="2.0"/>
<text x="614.80" y="233.35" text-anchor="end" class="tk">10.00</text>
<line x1="618.60" y1="212.82" x2="623.40" y2="212.82" stroke="#000" stroke-width="2.0"/>
<line x1="615.60" y1="196.50" x2="623.40" y2="196.50" stroke="#000" stroke-width="2.0"/>
<text x="614.80" y="200.70" text-anchor="end" class="tk">12.00</text>
<line x1="618.60" y1="180.18" x2="623.40" y2="180.18" stroke="#000" stroke-width="2.0"/>
<line x1="615.60" y1="163.85" x2="623.40" y2="163.85" stroke="#000" stroke-width="2.0"/>
<text x="614.80" y="168.05" text-anchor="end" class="tk">14.00</text>
<line x1="618.60" y1="147.52" x2="623.40" y2="147.52" stroke="#000" stroke-width="2.0"/>
<line x1="615.60" y1="131.20" x2="623.40" y2="131.20" stroke="#000" stroke-width="2.0"/>
<text x="614.80" y="135.40" text-anchor="end" class="tk">16.00</text>
<line x1="618.60" y1="114.88" x2="623.40" y2="114.88" stroke="#000" stroke-width="2.0"/>
<line x1="615.60" y1="98.55" x2="623.40" y2="98.55" stroke="#000" stroke-width="2.0"/>
<text x="614.80" y="102.75" text-anchor="end" class="tk">18.00</text>
<line x1="618.60" y1="82.22" x2="623.40" y2="82.22" stroke="#000" stroke-width="2.0"/>
<line x1="615.60" y1="65.90" x2="623.40" y2="65.90" stroke="#000" stroke-width="2.0"/>
<text x="614.80" y="70.10" text-anchor="end" class="tk">20.00</text>
<line x1="644.40" y1="315.00" x2="998.10" y2="315.00" stroke="#000" stroke-width="2.4"/>
<line x1="681.65" y1="315.00" x2="681.65" y2="323.00" stroke="#000" stroke-width="2.0"/>
<text x="681.65" y="333.60" text-anchor="middle" class="tk">LLRE</text>
<line x1="774.38" y1="315.00" x2="774.38" y2="323.00" stroke="#000" stroke-width="2.0"/>
<text x="774.38" y="333.60" text-anchor="middle" class="tk">BFR40</text>
<line x1="867.11" y1="315.00" x2="867.11" y2="323.00" stroke="#000" stroke-width="2.0"/>
<text x="867.11" y="333.60" text-anchor="middle" class="tk">BFR80</text>
<line x1="959.84" y1="315.00" x2="959.84" y2="323.00" stroke="#000" stroke-width="2.0"/>
<text x="959.84" y="333.60" text-anchor="middle" class="tk">HLRE</text>
<line x1="623.40" y1="382.85" x2="623.40" y2="613.35" stroke="#000" stroke-width="2.4"/>
<line x1="615.60" y1="612.35" x2="623.40" y2="612.35" stroke="#000" stroke-width="2.0"/>
<text x="614.80" y="616.55" text-anchor="end" class="tk">0.00</text>
<line x1="618.60" y1="601.96" x2="623.40" y2="601.96" stroke="#000" stroke-width="2.0"/>
<line x1="615.60" y1="591.58" x2="623.40" y2="591.58" stroke="#000" stroke-width="2.0"/>
<text x="614.80" y="595.78" text-anchor="end" class="tk">1.00</text>
<line x1="618.60" y1="581.19" x2="623.40" y2="581.19" stroke="#000" stroke-width="2.0"/>
<line x1="615.60" y1="570.80" x2="623.40" y2="570.80" stroke="#000" stroke-width="2.0"/>
<text x="614.80" y="575.00" text-anchor="end" class="tk">2.00</text>
<line x1="618.60" y1="560.42" x2="623.40" y2="560.42" stroke="#000" stroke-width="2.0"/>
<line x1="615.60" y1="550.03" x2="623.40" y2="550.03" stroke="#000" stroke-width="2.0"/>
<text x="614.80" y="554.23" text-anchor="end" class="tk">3.00</text>
<line x1="618.60" y1="539.65" x2="623.40" y2="539.65" stroke="#000" stroke-width="2.0"/>
<line x1="615.60" y1="529.26" x2="623.40" y2="529.26" stroke="#000" stroke-width="2.0"/>
<text x="614.80" y="533.46" text-anchor="end" class="tk">4.00</text>
<line x1="618.60" y1="518.87" x2="623.40" y2="518.87" stroke="#000" stroke-width="2.0"/>
<line x1="615.60" y1="508.49" x2="623.40" y2="508.49" stroke="#000" stroke-width="2.0"/>
<text x="614.80" y="512.69" text-anchor="end" class="tk">5.00</text>
<line x1="618.60" y1="498.10" x2="623.40" y2="498.10" stroke="#000" stroke-width="2.0"/>
<line x1="615.60" y1="487.71" x2="623.40" y2="487.71" stroke="#000" stroke-width="2.0"/>
<text x="614.80" y="491.91" text-anchor="end" class="tk">6.00</text>
<line x1="618.60" y1="477.33" x2="623.40" y2="477.33" stroke="#000" stroke-width="2.0"/>
<line x1="615.60" y1="466.94" x2="623.40" y2="466.94" stroke="#000" stroke-width="2.0"/>
<text x="614.80" y="471.14" text-anchor="end" class="tk">7.00</text>
<line x1="618.60" y1="456.55" x2="623.40" y2="456.55" stroke="#000" stroke-width="2.0"/>
<line x1="615.60" y1="446.17" x2="623.40" y2="446.17" stroke="#000" stroke-width="2.0"/>
<text x="614.80" y="450.37" text-anchor="end" class="tk">8.00</text>
<line x1="618.60" y1="435.78" x2="623.40" y2="435.78" stroke="#000" stroke-width="2.0"/>
<line x1="615.60" y1="425.40" x2="623.40" y2="425.40" stroke="#000" stroke-width="2.0"/>
<text x="614.80" y="429.60" text-anchor="end" class="tk">9.00</text>
<line x1="618.60" y1="415.01" x2="623.40" y2="415.01" stroke="#000" stroke-width="2.0"/>
<line x1="615.60" y1="404.62" x2="623.40" y2="404.62" stroke="#000" stroke-width="2.0"/>
<text x="614.80" y="408.82" text-anchor="end" class="tk">10.00</text>
<line x1="618.60" y1="394.24" x2="623.40" y2="394.24" stroke="#000" stroke-width="2.0"/>
<line x1="615.60" y1="383.85" x2="623.40" y2="383.85" stroke="#000" stroke-width="2.0"/>
<text x="614.80" y="388.05" text-anchor="end" class="tk">11.00</text>
<line x1="644.40" y1="632.95" x2="998.10" y2="632.95" stroke="#000" stroke-width="2.4"/>
<line x1="681.65" y1="632.95" x2="681.65" y2="640.95" stroke="#000" stroke-width="2.0"/>
<text x="681.65" y="651.55" text-anchor="middle" class="tk">LLRE</text>
<line x1="774.38" y1="632.95" x2="774.38" y2="640.95" stroke="#000" stroke-width="2.0"/>
<text x="774.38" y="651.55" text-anchor="middle" class="tk">BFR40</text>
<line x1="867.11" y1="632.95" x2="867.11" y2="640.95" stroke="#000" stroke-width="2.0"/>
<text x="867.11" y="651.55" text-anchor="middle" class="tk">BFR80</text>
<line x1="959.84" y1="632.95" x2="959.84" y2="640.95" stroke="#000" stroke-width="2.0"/>
<text x="959.84" y="651.55" text-anchor="middle" class="tk">HLRE</text>
<line x1="164.00" y1="199.90" x2="164.00" y2="217.00" stroke="#5a5a5a" stroke-width="1.3"/>
<line x1="160.80" y1="199.90" x2="167.20" y2="199.90" stroke="#5a5a5a" stroke-width="1.6"/>
<rect x="158.07" y="217.00" width="11.85" height="77.45" fill="#000000"/>
<line x1="181.50" y1="175.60" x2="181.50" y2="196.70" stroke="#777777" stroke-width="1.3"/>
<line x1="178.30" y1="175.60" x2="184.70" y2="175.60" stroke="#777777" stroke-width="1.6"/>
<rect x="175.57" y="196.70" width="11.85" height="97.75" fill="#4f4f4f"/>
<line x1="199.00" y1="160.20" x2="199.00" y2="184.30" stroke="#9c9c9c" stroke-width="1.3"/>
<line x1="195.80" y1="160.20" x2="202.20" y2="160.20" stroke="#9c9c9c" stroke-width="1.6"/>
<rect x="193.07" y="184.30" width="11.85" height="110.15" fill="#999999"/>
<line x1="216.50" y1="146.70" x2="216.50" y2="173.70" stroke="#d8d8d8" stroke-width="1.3"/>
<line x1="213.30" y1="146.70" x2="219.70" y2="146.70" stroke="#d8d8d8" stroke-width="1.6"/>
<rect x="210.57" y="173.70" width="11.85" height="120.75" fill="#d4d4d4"/>
<line x1="256.73" y1="175.05" x2="256.73" y2="191.70" stroke="#5a5a5a" stroke-width="1.3"/>
<line x1="253.53" y1="175.05" x2="259.93" y2="175.05" stroke="#5a5a5a" stroke-width="1.6"/>
<rect x="250.81" y="191.70" width="11.85" height="102.75" fill="#000000"/>
<line x1="274.23" y1="149.00" x2="274.23" y2="169.80" stroke="#777777" stroke-width="1.3"/>
<line x1="271.03" y1="149.00" x2="277.43" y2="149.00" stroke="#777777" stroke-width="1.6"/>
<rect x="268.31" y="169.80" width="11.85" height="124.65" fill="#4f4f4f"/>
<line x1="291.73" y1="130.50" x2="291.73" y2="153.50" stroke="#9c9c9c" stroke-width="1.3"/>
<line x1="288.53" y1="130.50" x2="294.93" y2="130.50" stroke="#9c9c9c" stroke-width="1.6"/>
<rect x="285.81" y="153.50" width="11.85" height="140.95" fill="#999999"/>
<line x1="309.23" y1="112.90" x2="309.23" y2="135.80" stroke="#d8d8d8" stroke-width="1.3"/>
<line x1="306.03" y1="112.90" x2="312.43" y2="112.90" stroke="#d8d8d8" stroke-width="1.6"/>
<rect x="303.31" y="135.80" width="11.85" height="158.65" fill="#d4d4d4"/>
<line x1="349.46" y1="150.20" x2="349.46" y2="164.30" stroke="#5a5a5a" stroke-width="1.3"/>
<line x1="346.26" y1="150.20" x2="352.66" y2="150.20" stroke="#5a5a5a" stroke-width="1.6"/>
<rect x="343.54" y="164.30" width="11.85" height="130.15" fill="#000000"/>
<line x1="366.96" y1="110.00" x2="366.96" y2="127.40" stroke="#777777" stroke-width="1.3"/>
<line x1="363.76" y1="110.00" x2="370.16" y2="110.00" stroke="#777777" stroke-width="1.6"/>
<rect x="361.04" y="127.40" width="11.85" height="167.05" fill="#4f4f4f"/>
<line x1="384.46" y1="83.80" x2="384.46" y2="102.90" stroke="#9c9c9c" stroke-width="1.3"/>
<line x1="381.26" y1="83.80" x2="387.66" y2="83.80" stroke="#9c9c9c" stroke-width="1.6"/>
<rect x="378.54" y="102.90" width="11.85" height="191.55" fill="#999999"/>
<line x1="401.96" y1="67.60" x2="401.96" y2="81.40" stroke="#d8d8d8" stroke-width="1.3"/>
<line x1="398.76" y1="67.60" x2="405.16" y2="67.60" stroke="#d8d8d8" stroke-width="1.6"/>
<rect x="396.04" y="81.40" width="11.85" height="213.05" fill="#d4d4d4"/>
<line x1="442.19" y1="155.80" x2="442.19" y2="177.80" stroke="#5a5a5a" stroke-width="1.3"/>
<line x1="438.99" y1="155.80" x2="445.39" y2="155.80" stroke="#5a5a5a" stroke-width="1.6"/>
<rect x="436.26" y="177.80" width="11.85" height="116.65" fill="#000000"/>
<line x1="459.69" y1="136.40" x2="459.69" y2="160.20" stroke="#777777" stroke-width="1.3"/>
<line x1="456.49" y1="136.40" x2="462.89" y2="136.40" stroke="#777777" stroke-width="1.6"/>
<rect x="453.76" y="160.20" width="11.85" height="134.25" fill="#4f4f4f"/>
<line x1="477.19" y1="119.60" x2="477.19" y2="142.40" stroke="#9c9c9c" stroke-width="1.3"/>
<line x1="473.99" y1="119.60" x2="480.39" y2="119.60" stroke="#9c9c9c" stroke-width="1.6"/>
<rect x="471.26" y="142.40" width="11.85" height="152.05" fill="#999999"/>
<line x1="494.69" y1="104.40" x2="494.69" y2="128.80" stroke="#d8d8d8" stroke-width="1.3"/>
<line x1="491.49" y1="104.40" x2="497.89" y2="104.40" stroke="#d8d8d8" stroke-width="1.6"/>
<rect x="488.76" y="128.80" width="11.85" height="165.65" fill="#d4d4d4"/>
<line x1="164.00" y1="573.70" x2="164.00" y2="584.10" stroke="#5a5a5a" stroke-width="1.3"/>
<line x1="160.80" y1="573.70" x2="167.20" y2="573.70" stroke="#5a5a5a" stroke-width="1.6"/>
<rect x="158.07" y="584.10" width="11.85" height="28.25" fill="#000000"/>
<line x1="181.50" y1="560.50" x2="181.50" y2="572.40" stroke="#777777" stroke-width="1.3"/>
<line x1="178.30" y1="560.50" x2="184.70" y2="560.50" stroke="#777777" stroke-width="1.6"/>
<rect x="175.57" y="572.40" width="11.85" height="39.95" fill="#4f4f4f"/>
<line x1="199.00" y1="552.80" x2="199.00" y2="566.30" stroke="#9c9c9c" stroke-width="1.3"/>
<line x1="195.80" y1="552.80" x2="202.20" y2="552.80" stroke="#9c9c9c" stroke-width="1.6"/>
<rect x="193.07" y="566.30" width="11.85" height="46.05" fill="#999999"/>
<line x1="216.50" y1="550.50" x2="216.50" y2="560.90" stroke="#d8d8d8" stroke-width="1.3"/>
<line x1="213.30" y1="550.50" x2="219.70" y2="550.50" stroke="#d8d8d8" stroke-width="1.6"/>
<rect x="210.57" y="560.90" width="11.85" height="51.45" fill="#d4d4d4"/>
<line x1="256.73" y1="560.50" x2="256.73" y2="572.40" stroke="#5a5a5a" stroke-width="1.3"/>
<line x1="253.53" y1="560.50" x2="259.93" y2="560.50" stroke="#5a5a5a" stroke-width="1.6"/>
<rect x="250.81" y="572.40" width="11.85" height="39.95" fill="#000000"/>
<line x1="274.23" y1="536.70" x2="274.23" y2="551.60" stroke="#777777" stroke-width="1.3"/>
<line x1="271.03" y1="536.70" x2="277.43" y2="536.70" stroke="#777777" stroke-width="1.6"/>
<rect x="268.31" y="551.60" width="11.85" height="60.75" fill="#4f4f4f"/>
<line x1="291.73" y1="517.40" x2="291.73" y2="534.20" stroke="#9c9c9c" stroke-width="1.3"/>
<line x1="288.53" y1="517.40" x2="294.93" y2="517.40" stroke="#9c9c9c" stroke-width="1.6"/>
<rect x="285.81" y="534.20" width="11.85" height="78.15" fill="#999999"/>
<line x1="309.23" y1="488.10" x2="309.23" y2="514.70" stroke="#d8d8d8" stroke-width="1.3"/>
<line x1="306.03" y1="488.10" x2="312.43" y2="488.10" stroke="#d8d8d8" stroke-width="1.6"/>
<rect x="303.31" y="514.70" width="11.85" height="97.65" fill="#d4d4d4"/>
<line x1="349.46" y1="515.80" x2="349.46" y2="539.50" stroke="#5a5a5a" stroke-width="1.3"/>
<line x1="346.26" y1="515.80" x2="352.66" y2="515.80" stroke="#5a5a5a" stroke-width="1.6"/>
<rect x="343.54" y="539.50" width="11.85" height="72.85" fill="#000000"/>
<line x1="366.96" y1="493.80" x2="366.96" y2="514.20" stroke="#777777" stroke-width="1.3"/>
<line x1="363.76" y1="493.80" x2="370.16" y2="493.80" stroke="#777777" stroke-width="1.6"/>
<rect x="361.04" y="514.20" width="11.85" height="98.15" fill="#4f4f4f"/>
<line x1="384.46" y1="467.30" x2="384.46" y2="486.40" stroke="#9c9c9c" stroke-width="1.3"/>
<line x1="381.26" y1="467.30" x2="387.66" y2="467.30" stroke="#9c9c9c" stroke-width="1.6"/>
<rect x="378.54" y="486.40" width="11.85" height="125.95" fill="#999999"/>
<line x1="401.96" y1="440.80" x2="401.96" y2="459.70" stroke="#d8d8d8" stroke-width="1.3"/>
<line x1="398.76" y1="440.80" x2="405.16" y2="440.80" stroke="#d8d8d8" stroke-width="1.6"/>
<rect x="396.04" y="459.70" width="11.85" height="152.65" fill="#d4d4d4"/>
<line x1="442.19" y1="563.20" x2="442.19" y2="583.40" stroke="#5a5a5a" stroke-width="1.3"/>
<line x1="438.99" y1="563.20" x2="445.39" y2="563.20" stroke="#5a5a5a" stroke-width="1.6"/>
<rect x="436.26" y="583.40" width="11.85" height="28.95" fill="#000000"/>
<line x1="459.69" y1="555.30" x2="459.69" y2="576.30" stroke="#777777" stroke-width="1.3"/>
<line x1="456.49" y1="555.30" x2="462.89" y2="555.30" stroke="#777777" stroke-width="1.6"/>
<rect x="453.76" y="576.30" width="11.85" height="36.05" fill="#4f4f4f"/>
<line x1="477.19" y1="547.10" x2="477.19" y2="566.20" stroke="#9c9c9c" stroke-width="1.3"/>
<line x1="473.99" y1="547.10" x2="480.39" y2="547.10" stroke="#9c9c9c" stroke-width="1.6"/>
<rect x="471.26" y="566.20" width="11.85" height="46.15" fill="#999999"/>
<line x1="494.69" y1="540.40" x2="494.69" y2="555.70" stroke="#d8d8d8" stroke-width="1.3"/>
<line x1="491.49" y1="540.40" x2="497.89" y2="540.40" stroke="#d8d8d8" stroke-width="1.6"/>
<rect x="488.76" y="555.70" width="11.85" height="56.65" fill="#d4d4d4"/>
<line x1="256.8" y1="87.3" x2="310" y2="87.3" stroke="#6e6e6e" stroke-width="1.5"/>
<path d="M283.50,72.50 L285.30,72.50 L284.75,82.40 L284.05,82.40 Z" fill="#666666"/>
<path d="M284.40,72.80 L285.40,74.10 L287.20,75.10 L285.40,76.10 L284.40,77.40 L283.40,76.10 L281.60,75.10 L283.40,74.10 Z" fill="#666666"/>
<line x1="347.6" y1="47" x2="401.4" y2="47" stroke="#6e6e6e" stroke-width="1.5"/>
<path d="M374.60,32.40 L376.40,32.40 L375.85,42.30 L375.15,42.30 Z" fill="#666666"/>
<path d="M375.50,32.70 L376.50,34.00 L378.30,35.00 L376.50,36.00 L375.50,37.30 L374.50,36.00 L372.70,35.00 L374.50,34.00 Z" fill="#666666"/>
<line x1="441.2" y1="91" x2="494.7" y2="91" stroke="#6e6e6e" stroke-width="1.5"/>
<path d="M467.00,76.90 L468.80,76.90 L468.25,86.80 L467.55,86.80 Z" fill="#666666"/>
<path d="M467.90,77.20 L468.90,78.50 L470.70,79.50 L468.90,80.50 L467.90,81.80 L466.90,80.50 L465.10,79.50 L466.90,78.50 Z" fill="#666666"/>
<path d="M348.90,134.30 L347.70,140.30 M351.10,134.30 L349.90,140.30 M347.00,136.10 L351.80,136.10 M347.00,138.50 L351.80,138.50 " stroke="#666666" stroke-width="1.2" fill="none"/>
<path d="M366.70,92.50 L365.50,98.50 M368.90,92.50 L367.70,98.50 M364.80,94.30 L369.60,94.30 M364.80,96.70 L369.60,96.70 " stroke="#666666" stroke-width="1.2" fill="none"/>
<path d="M377.10,70.00 L375.90,76.00 M379.30,70.00 L378.10,76.00 M375.20,71.80 L380.00,71.80 M375.20,74.20 L380.00,74.20 " stroke="#666666" stroke-width="1.2" fill="none"/>
<path d="M385.55,67.10 L386.25,67.10 L386.25,76.00 L385.55,76.00 Z" fill="#666666"/>
<path d="M385.90,67.40 L386.95,68.25 L388.30,69.30 L386.95,70.35 L385.90,71.20 L384.85,70.35 L383.50,69.30 L384.85,68.25 Z" fill="#666666"/>
<path d="M385.90,71.90 L386.95,72.75 L388.30,73.80 L386.95,74.85 L385.90,75.70 L384.85,74.85 L383.50,73.80 L384.85,72.75 Z" fill="#666666"/>
<path d="M397.30,56.00 L396.10,62.00 M399.50,56.00 L398.30,62.00 M395.40,57.80 L400.20,57.80 M395.40,60.20 L400.20,60.20 " stroke="#666666" stroke-width="1.2" fill="none"/>
<path d="M405.65,52.90 L406.35,52.90 L406.35,61.80 L405.65,61.80 Z" fill="#666666"/>
<path d="M406.00,53.20 L407.05,54.05 L408.40,55.10 L407.05,56.15 L406.00,57.00 L404.95,56.15 L403.60,55.10 L404.95,54.05 Z" fill="#666666"/>
<path d="M406.00,57.70 L407.05,58.55 L408.40,59.60 L407.05,60.65 L406.00,61.50 L404.95,60.65 L403.60,59.60 L404.95,58.55 Z" fill="#666666"/>
<line x1="255.9" y1="465.9" x2="309" y2="465.9" stroke="#6e6e6e" stroke-width="1.5"/>
<path d="M282.10,451.90 L283.90,451.90 L283.35,461.80 L282.65,461.80 Z" fill="#666666"/>
<path d="M283.00,452.20 L284.00,453.50 L285.80,454.50 L284.00,455.50 L283.00,456.80 L282.00,455.50 L280.20,454.50 L282.00,453.50 Z" fill="#666666"/>
<path d="M274.25,521.00 L274.95,521.00 L274.95,529.90 L274.25,529.90 Z" fill="#666666"/>
<path d="M274.60,521.30 L275.65,522.15 L277.00,523.20 L275.65,524.25 L274.60,525.10 L273.55,524.25 L272.20,523.20 L273.55,522.15 Z" fill="#666666"/>
<path d="M274.60,525.80 L275.65,526.65 L277.00,527.70 L275.65,528.75 L274.60,529.60 L273.55,528.75 L272.20,527.70 L273.55,526.65 Z" fill="#666666"/>
<path d="M291.55,501.20 L292.25,501.20 L292.25,510.10 L291.55,510.10 Z" fill="#666666"/>
<path d="M291.90,501.50 L292.95,502.35 L294.30,503.40 L292.95,504.45 L291.90,505.30 L290.85,504.45 L289.50,503.40 L290.85,502.35 Z" fill="#666666"/>
<path d="M291.90,506.00 L292.95,506.85 L294.30,507.90 L292.95,508.95 L291.90,509.80 L290.85,508.95 L289.50,507.90 L290.85,506.85 Z" fill="#666666"/>
<path d="M308.85,471.40 L309.55,471.40 L309.55,480.30 L308.85,480.30 Z" fill="#666666"/>
<path d="M309.20,471.70 L310.25,472.55 L311.60,473.60 L310.25,474.65 L309.20,475.50 L308.15,474.65 L306.80,473.60 L308.15,472.55 Z" fill="#666666"/>
<path d="M309.20,476.20 L310.25,477.05 L311.60,478.10 L310.25,479.15 L309.20,480.00 L308.15,479.15 L306.80,478.10 L308.15,477.05 Z" fill="#666666"/>
<line x1="349" y1="419.4" x2="401.9" y2="419.4" stroke="#6e6e6e" stroke-width="1.5"/>
<path d="M370.60,405.70 L372.40,405.70 L371.85,414.90 L371.15,414.90 Z" fill="#666666"/>
<path d="M371.50,406.00 L372.50,407.30 L374.30,408.30 L372.50,409.30 L371.50,410.60 L370.50,409.30 L368.70,408.30 L370.50,407.30 Z" fill="#666666"/>
<path d="M379.65,405.60 L380.35,405.60 L380.35,414.50 L379.65,414.50 Z" fill="#666666"/>
<path d="M380.00,405.90 L381.05,406.75 L382.40,407.80 L381.05,408.85 L380.00,409.70 L378.95,408.85 L377.60,407.80 L378.95,406.75 Z" fill="#666666"/>
<path d="M380.00,410.40 L381.05,411.25 L382.40,412.30 L381.05,413.35 L380.00,414.20 L378.95,413.35 L377.60,412.30 L378.95,411.25 Z" fill="#666666"/>
<path d="M366.50,482.50 L365.30,488.50 M368.70,482.50 L367.50,488.50 M364.60,484.30 L369.40,484.30 M364.60,486.70 L369.40,486.70 " stroke="#666666" stroke-width="1.2" fill="none"/>
<path d="M384.00,455.00 L382.80,461.00 M386.20,455.00 L385.00,461.00 M382.10,456.80 L386.90,456.80 M382.10,459.20 L386.90,459.20 " stroke="#666666" stroke-width="1.2" fill="none"/>
<path d="M401.00,428.00 L399.80,434.00 M403.20,428.00 L402.00,434.00 M399.10,429.80 L403.90,429.80 M399.10,432.20 L403.90,432.20 " stroke="#666666" stroke-width="1.2" fill="none"/>
<line x1="690.40" y1="131.20" x2="707.90" y2="131.20" stroke="#bdbdbd" stroke-width="0.95"/>
<line x1="690.40" y1="229.15" x2="707.90" y2="212.82" stroke="#bdbdbd" stroke-width="0.95"/>
<line x1="690.40" y1="163.85" x2="707.90" y2="163.85" stroke="#bdbdbd" stroke-width="0.95"/>
<line x1="690.40" y1="180.18" x2="707.90" y2="180.18" stroke="#bdbdbd" stroke-width="0.95"/>
<line x1="690.40" y1="180.18" x2="707.90" y2="147.52" stroke="#bdbdbd" stroke-width="0.95"/>
<line x1="690.40" y1="180.18" x2="707.90" y2="163.85" stroke="#bdbdbd" stroke-width="0.95"/>
<line x1="690.40" y1="163.85" x2="707.90" y2="131.20" stroke="#bdbdbd" stroke-width="0.95"/>
<line x1="690.40" y1="196.50" x2="707.90" y2="196.50" stroke="#bdbdbd" stroke-width="0.95"/>
<line x1="690.40" y1="196.50" x2="707.90" y2="196.50" stroke="#bdbdbd" stroke-width="0.95"/>
<line x1="690.40" y1="196.50" x2="707.90" y2="180.18" stroke="#bdbdbd" stroke-width="0.95"/>
<line x1="783.13" y1="114.88" x2="800.63" y2="98.55" stroke="#bdbdbd" stroke-width="0.95"/>
<line x1="783.13" y1="131.20" x2="800.63" y2="114.88" stroke="#bdbdbd" stroke-width="0.95"/>
<line x1="783.13" y1="131.20" x2="800.63" y2="131.20" stroke="#bdbdbd" stroke-width="0.95"/>
<line x1="783.13" y1="147.52" x2="800.63" y2="131.20" stroke="#bdbdbd" stroke-width="0.95"/>
<line x1="783.13" y1="163.85" x2="800.63" y2="147.52" stroke="#bdbdbd" stroke-width="0.95"/>
<line x1="783.13" y1="180.18" x2="800.63" y2="180.18" stroke="#bdbdbd" stroke-width="0.95"/>
<line x1="783.13" y1="180.18" x2="800.63" y2="163.85" stroke="#bdbdbd" stroke-width="0.95"/>
<line x1="783.13" y1="163.85" x2="800.63" y2="131.20" stroke="#bdbdbd" stroke-width="0.95"/>
<line x1="783.13" y1="180.18" x2="800.63" y2="131.20" stroke="#bdbdbd" stroke-width="0.95"/>
<line x1="783.13" y1="163.85" x2="800.63" y2="163.85" stroke="#bdbdbd" stroke-width="0.95"/>
<line x1="875.86" y1="82.22" x2="893.36" y2="65.90" stroke="#bdbdbd" stroke-width="0.95"/>
<line x1="875.86" y1="98.55" x2="893.36" y2="82.22" stroke="#bdbdbd" stroke-width="0.95"/>
<line x1="875.86" y1="82.22" x2="893.36" y2="65.90" stroke="#bdbdbd" stroke-width="0.95"/>
<line x1="875.86" y1="98.55" x2="893.36" y2="82.22" stroke="#bdbdbd" stroke-width="0.95"/>
<line x1="875.86" y1="131.20" x2="893.36" y2="98.55" stroke="#bdbdbd" stroke-width="0.95"/>
<line x1="875.86" y1="114.88" x2="893.36" y2="82.22" stroke="#bdbdbd" stroke-width="0.95"/>
<line x1="875.86" y1="114.88" x2="893.36" y2="98.55" stroke="#bdbdbd" stroke-width="0.95"/>
<line x1="875.86" y1="98.55" x2="893.36" y2="65.90" stroke="#bdbdbd" stroke-width="0.95"/>
<line x1="875.86" y1="82.22" x2="893.36" y2="82.22" stroke="#bdbdbd" stroke-width="0.95"/>
<line x1="875.86" y1="114.88" x2="893.36" y2="98.55" stroke="#bdbdbd" stroke-width="0.95"/>
<line x1="968.59" y1="114.88" x2="986.09" y2="98.55" stroke="#bdbdbd" stroke-width="0.95"/>
<line x1="968.59" y1="114.88" x2="986.09" y2="114.88" stroke="#bdbdbd" stroke-width="0.95"/>
<line x1="968.59" y1="131.20" x2="986.09" y2="131.20" stroke="#bdbdbd" stroke-width="0.95"/>
<line x1="968.59" y1="147.52" x2="986.09" y2="147.52" stroke="#bdbdbd" stroke-width="0.95"/>
<line x1="968.59" y1="147.52" x2="986.09" y2="131.20" stroke="#bdbdbd" stroke-width="0.95"/>
<line x1="968.59" y1="163.85" x2="986.09" y2="163.85" stroke="#bdbdbd" stroke-width="0.95"/>
<line x1="968.59" y1="163.85" x2="986.09" y2="131.20" stroke="#bdbdbd" stroke-width="0.95"/>
<line x1="968.59" y1="180.18" x2="986.09" y2="163.85" stroke="#bdbdbd" stroke-width="0.95"/>
<line x1="968.59" y1="147.52" x2="986.09" y2="131.20" stroke="#bdbdbd" stroke-width="0.95"/>
<line x1="968.59" y1="131.20" x2="986.09" y2="98.55" stroke="#bdbdbd" stroke-width="0.95"/>
<line x1="968.59" y1="163.85" x2="986.09" y2="147.52" stroke="#bdbdbd" stroke-width="0.95"/>
<line x1="672.90" y1="147.52" x2="690.40" y2="131.20" stroke="#858585" stroke-width="0.95"/>
<line x1="672.90" y1="229.15" x2="690.40" y2="229.15" stroke="#858585" stroke-width="0.95"/>
<line x1="672.90" y1="180.18" x2="690.40" y2="163.85" stroke="#858585" stroke-width="0.95"/>
<line x1="672.90" y1="180.18" x2="690.40" y2="180.18" stroke="#858585" stroke-width="0.95"/>
<line x1="672.90" y1="212.82" x2="690.40" y2="180.18" stroke="#858585" stroke-width="0.95"/>
<line x1="672.90" y1="196.50" x2="690.40" y2="180.18" stroke="#858585" stroke-width="0.95"/>
<line x1="672.90" y1="196.50" x2="690.40" y2="163.85" stroke="#858585" stroke-width="0.95"/>
<line x1="672.90" y1="196.50" x2="690.40" y2="196.50" stroke="#858585" stroke-width="0.95"/>
<line x1="672.90" y1="196.50" x2="690.40" y2="196.50" stroke="#858585" stroke-width="0.95"/>
<line x1="672.90" y1="212.82" x2="690.40" y2="196.50" stroke="#858585" stroke-width="0.95"/>
<line x1="765.63" y1="147.52" x2="783.13" y2="114.88" stroke="#858585" stroke-width="0.95"/>
<line x1="765.63" y1="147.52" x2="783.13" y2="131.20" stroke="#858585" stroke-width="0.95"/>
<line x1="765.63" y1="147.52" x2="783.13" y2="131.20" stroke="#858585" stroke-width="0.95"/>
<line x1="765.63" y1="163.85" x2="783.13" y2="147.52" stroke="#858585" stroke-width="0.95"/>
<line x1="765.63" y1="163.85" x2="783.13" y2="163.85" stroke="#858585" stroke-width="0.95"/>
<line x1="765.63" y1="180.18" x2="783.13" y2="180.18" stroke="#858585" stroke-width="0.95"/>
<line x1="765.63" y1="196.50" x2="783.13" y2="180.18" stroke="#858585" stroke-width="0.95"/>
<line x1="765.63" y1="196.50" x2="783.13" y2="163.85" stroke="#858585" stroke-width="0.95"/>
<line x1="765.63" y1="180.18" x2="783.13" y2="180.18" stroke="#858585" stroke-width="0.95"/>
<line x1="765.63" y1="180.18" x2="783.13" y2="163.85" stroke="#858585" stroke-width="0.95"/>
<line x1="858.36" y1="98.55" x2="875.86" y2="82.22" stroke="#858585" stroke-width="0.95"/>
<line x1="858.36" y1="114.88" x2="875.86" y2="98.55" stroke="#858585" stroke-width="0.95"/>
<line x1="858.36" y1="114.88" x2="875.86" y2="82.22" stroke="#858585" stroke-width="0.95"/>
<line x1="858.36" y1="131.20" x2="875.86" y2="98.55" stroke="#858585" stroke-width="0.95"/>
<line x1="858.36" y1="147.52" x2="875.86" y2="131.20" stroke="#858585" stroke-width="0.95"/>
<line x1="858.36" y1="131.20" x2="875.86" y2="114.88" stroke="#858585" stroke-width="0.95"/>
<line x1="858.36" y1="147.52" x2="875.86" y2="114.88" stroke="#858585" stroke-width="0.95"/>
<line x1="858.36" y1="131.20" x2="875.86" y2="98.55" stroke="#858585" stroke-width="0.95"/>
<line x1="858.36" y1="114.88" x2="875.86" y2="82.22" stroke="#858585" stroke-width="0.95"/>
<line x1="858.36" y1="147.52" x2="875.86" y2="114.88" stroke="#858585" stroke-width="0.95"/>
<line x1="951.09" y1="131.20" x2="968.59" y2="114.88" stroke="#858585" stroke-width="0.95"/>
<line x1="951.09" y1="131.20" x2="968.59" y2="114.88" stroke="#858585" stroke-width="0.95"/>
<line x1="951.09" y1="147.52" x2="968.59" y2="131.20" stroke="#858585" stroke-width="0.95"/>
<line x1="951.09" y1="147.52" x2="968.59" y2="147.52" stroke="#858585" stroke-width="0.95"/>
<line x1="951.09" y1="163.85" x2="968.59" y2="147.52" stroke="#858585" stroke-width="0.95"/>
<line x1="951.09" y1="180.18" x2="968.59" y2="163.85" stroke="#858585" stroke-width="0.95"/>
<line x1="951.09" y1="180.18" x2="968.59" y2="163.85" stroke="#858585" stroke-width="0.95"/>
<line x1="951.09" y1="196.50" x2="968.59" y2="180.18" stroke="#858585" stroke-width="0.95"/>
<line x1="951.09" y1="180.18" x2="968.59" y2="147.52" stroke="#858585" stroke-width="0.95"/>
<line x1="951.09" y1="147.52" x2="968.59" y2="131.20" stroke="#858585" stroke-width="0.95"/>
<line x1="951.09" y1="180.18" x2="968.59" y2="163.85" stroke="#858585" stroke-width="0.95"/>
<line x1="655.40" y1="229.15" x2="672.90" y2="147.52" stroke="#404040" stroke-width="1.05"/>
<line x1="655.40" y1="245.47" x2="672.90" y2="229.15" stroke="#404040" stroke-width="1.05"/>
<line x1="655.40" y1="196.50" x2="672.90" y2="180.18" stroke="#404040" stroke-width="1.05"/>
<line x1="655.40" y1="196.50" x2="672.90" y2="180.18" stroke="#404040" stroke-width="1.05"/>
<line x1="655.40" y1="212.82" x2="672.90" y2="212.82" stroke="#404040" stroke-width="1.05"/>
<line x1="655.40" y1="212.82" x2="672.90" y2="196.50" stroke="#404040" stroke-width="1.05"/>
<line x1="655.40" y1="229.15" x2="672.90" y2="196.50" stroke="#404040" stroke-width="1.05"/>
<line x1="655.40" y1="196.50" x2="672.90" y2="196.50" stroke="#404040" stroke-width="1.05"/>
<line x1="655.40" y1="245.47" x2="672.90" y2="196.50" stroke="#404040" stroke-width="1.05"/>
<line x1="655.40" y1="212.82" x2="672.90" y2="212.82" stroke="#404040" stroke-width="1.05"/>
<line x1="748.13" y1="180.18" x2="765.63" y2="147.52" stroke="#404040" stroke-width="1.05"/>
<line x1="748.13" y1="212.82" x2="765.63" y2="147.52" stroke="#404040" stroke-width="1.05"/>
<line x1="748.13" y1="180.18" x2="765.63" y2="147.52" stroke="#404040" stroke-width="1.05"/>
<line x1="748.13" y1="180.18" x2="765.63" y2="163.85" stroke="#404040" stroke-width="1.05"/>
<line x1="748.13" y1="180.18" x2="765.63" y2="163.85" stroke="#404040" stroke-width="1.05"/>
<line x1="748.13" y1="196.50" x2="765.63" y2="180.18" stroke="#404040" stroke-width="1.05"/>
<line x1="748.13" y1="196.50" x2="765.63" y2="196.50" stroke="#404040" stroke-width="1.05"/>
<line x1="748.13" y1="229.15" x2="765.63" y2="196.50" stroke="#404040" stroke-width="1.05"/>
<line x1="748.13" y1="196.50" x2="765.63" y2="180.18" stroke="#404040" stroke-width="1.05"/>
<line x1="748.13" y1="180.18" x2="765.63" y2="180.18" stroke="#404040" stroke-width="1.05"/>
<line x1="840.86" y1="147.52" x2="858.36" y2="98.55" stroke="#404040" stroke-width="1.05"/>
<line x1="840.86" y1="147.52" x2="858.36" y2="114.88" stroke="#404040" stroke-width="1.05"/>
<line x1="840.86" y1="163.85" x2="858.36" y2="114.88" stroke="#404040" stroke-width="1.05"/>
<line x1="840.86" y1="163.85" x2="858.36" y2="131.20" stroke="#404040" stroke-width="1.05"/>
<line x1="840.86" y1="163.85" x2="858.36" y2="147.52" stroke="#404040" stroke-width="1.05"/>
<line x1="840.86" y1="180.18" x2="858.36" y2="131.20" stroke="#404040" stroke-width="1.05"/>
<line x1="840.86" y1="180.18" x2="858.36" y2="147.52" stroke="#404040" stroke-width="1.05"/>
<line x1="840.86" y1="147.52" x2="858.36" y2="131.20" stroke="#404040" stroke-width="1.05"/>
<line x1="840.86" y1="180.18" x2="858.36" y2="114.88" stroke="#404040" stroke-width="1.05"/>
<line x1="840.86" y1="163.85" x2="858.36" y2="147.52" stroke="#404040" stroke-width="1.05"/>
<line x1="933.59" y1="147.52" x2="951.09" y2="131.20" stroke="#404040" stroke-width="1.05"/>
<line x1="933.59" y1="147.52" x2="951.09" y2="131.20" stroke="#404040" stroke-width="1.05"/>
<line x1="933.59" y1="163.85" x2="951.09" y2="147.52" stroke="#404040" stroke-width="1.05"/>
<line x1="933.59" y1="180.18" x2="951.09" y2="147.52" stroke="#404040" stroke-width="1.05"/>
<line x1="933.59" y1="180.18" x2="951.09" y2="163.85" stroke="#404040" stroke-width="1.05"/>
<line x1="933.59" y1="180.18" x2="951.09" y2="180.18" stroke="#404040" stroke-width="1.05"/>
<line x1="933.59" y1="196.50" x2="951.09" y2="180.18" stroke="#404040" stroke-width="1.05"/>
<line x1="933.59" y1="196.50" x2="951.09" y2="196.50" stroke="#404040" stroke-width="1.05"/>
<line x1="933.59" y1="212.82" x2="951.09" y2="180.18" stroke="#404040" stroke-width="1.05"/>
<line x1="933.59" y1="180.18" x2="951.09" y2="147.52" stroke="#404040" stroke-width="1.05"/>
<line x1="933.59" y1="196.50" x2="951.09" y2="180.18" stroke="#404040" stroke-width="1.05"/>
<rect x="653.75" y="194.85" width="3.3" height="3.3" fill="#000"/>
<rect x="653.75" y="211.17" width="3.3" height="3.3" fill="#000"/>
<rect x="653.75" y="227.50" width="3.3" height="3.3" fill="#000"/>
<rect x="653.75" y="243.82" width="3.3" height="3.3" fill="#000"/>
<rect x="746.48" y="178.53" width="3.3" height="3.3" fill="#000"/>
<rect x="746.48" y="194.85" width="3.3" height="3.3" fill="#000"/>
<rect x="746.48" y="211.17" width="3.3" height="3.3" fill="#000"/>
<rect x="746.48" y="227.50" width="3.3" height="3.3" fill="#000"/>
<rect x="839.21" y="145.87" width="3.3" height="3.3" fill="#000"/>
<rect x="839.21" y="162.20" width="3.3" height="3.3" fill="#000"/>
<rect x="839.21" y="178.53" width="3.3" height="3.3" fill="#000"/>
<rect x="931.94" y="145.87" width="3.3" height="3.3" fill="#000"/>
<rect x="931.94" y="162.20" width="3.3" height="3.3" fill="#000"/>
<rect x="931.94" y="178.53" width="3.3" height="3.3" fill="#000"/>
<rect x="931.94" y="194.85" width="3.3" height="3.3" fill="#000"/>
<rect x="931.94" y="211.17" width="3.3" height="3.3" fill="#000"/>
<rect x="671.50" y="146.12" width="2.8" height="2.8" fill="#505050"/>
<rect x="671.50" y="178.78" width="2.8" height="2.8" fill="#505050"/>
<rect x="671.50" y="195.10" width="2.8" height="2.8" fill="#505050"/>
<rect x="671.50" y="211.42" width="2.8" height="2.8" fill="#505050"/>
<rect x="671.50" y="227.75" width="2.8" height="2.8" fill="#505050"/>
<rect x="764.23" y="146.12" width="2.8" height="2.8" fill="#505050"/>
<rect x="764.23" y="162.45" width="2.8" height="2.8" fill="#505050"/>
<rect x="764.23" y="178.78" width="2.8" height="2.8" fill="#505050"/>
<rect x="764.23" y="195.10" width="2.8" height="2.8" fill="#505050"/>
<rect x="856.96" y="97.15" width="2.8" height="2.8" fill="#505050"/>
<rect x="856.96" y="113.48" width="2.8" height="2.8" fill="#505050"/>
<rect x="856.96" y="129.80" width="2.8" height="2.8" fill="#505050"/>
<rect x="856.96" y="146.12" width="2.8" height="2.8" fill="#505050"/>
<rect x="949.69" y="129.80" width="2.8" height="2.8" fill="#505050"/>
<rect x="949.69" y="146.12" width="2.8" height="2.8" fill="#505050"/>
<rect x="949.69" y="162.45" width="2.8" height="2.8" fill="#505050"/>
<rect x="949.69" y="178.78" width="2.8" height="2.8" fill="#505050"/>
<rect x="949.69" y="195.10" width="2.8" height="2.8" fill="#505050"/>
<rect x="689.00" y="129.80" width="2.8" height="2.8" fill="#8c8c8c"/>
<rect x="689.00" y="162.45" width="2.8" height="2.8" fill="#8c8c8c"/>
<rect x="689.00" y="178.78" width="2.8" height="2.8" fill="#8c8c8c"/>
<rect x="689.00" y="195.10" width="2.8" height="2.8" fill="#8c8c8c"/>
<rect x="689.00" y="227.75" width="2.8" height="2.8" fill="#8c8c8c"/>
<rect x="781.73" y="113.48" width="2.8" height="2.8" fill="#8c8c8c"/>
<rect x="781.73" y="129.80" width="2.8" height="2.8" fill="#8c8c8c"/>
<rect x="781.73" y="146.12" width="2.8" height="2.8" fill="#8c8c8c"/>
<rect x="781.73" y="162.45" width="2.8" height="2.8" fill="#8c8c8c"/>
<rect x="781.73" y="178.78" width="2.8" height="2.8" fill="#8c8c8c"/>
<rect x="874.46" y="80.82" width="2.8" height="2.8" fill="#8c8c8c"/>
<rect x="874.46" y="97.15" width="2.8" height="2.8" fill="#8c8c8c"/>
<rect x="874.46" y="113.48" width="2.8" height="2.8" fill="#8c8c8c"/>
<rect x="874.46" y="129.80" width="2.8" height="2.8" fill="#8c8c8c"/>
<rect x="967.19" y="113.48" width="2.8" height="2.8" fill="#8c8c8c"/>
<rect x="967.19" y="129.80" width="2.8" height="2.8" fill="#8c8c8c"/>
<rect x="967.19" y="146.12" width="2.8" height="2.8" fill="#8c8c8c"/>
<rect x="967.19" y="162.45" width="2.8" height="2.8" fill="#8c8c8c"/>
<rect x="967.19" y="178.78" width="2.8" height="2.8" fill="#8c8c8c"/>
<rect x="706.25" y="129.55" width="3.3" height="3.3" fill="#000"/>
<rect x="706.25" y="145.87" width="3.3" height="3.3" fill="#000"/>
<rect x="706.25" y="162.20" width="3.3" height="3.3" fill="#000"/>
<rect x="706.25" y="178.53" width="3.3" height="3.3" fill="#000"/>
<rect x="706.25" y="194.85" width="3.3" height="3.3" fill="#000"/>
<rect x="706.25" y="211.17" width="3.3" height="3.3" fill="#000"/>
<rect x="798.98" y="96.90" width="3.3" height="3.3" fill="#000"/>
<rect x="798.98" y="113.23" width="3.3" height="3.3" fill="#000"/>
<rect x="798.98" y="129.55" width="3.3" height="3.3" fill="#000"/>
<rect x="798.98" y="145.87" width="3.3" height="3.3" fill="#000"/>
<rect x="798.98" y="162.20" width="3.3" height="3.3" fill="#000"/>
<rect x="798.98" y="178.53" width="3.3" height="3.3" fill="#000"/>
<rect x="891.71" y="64.25" width="3.3" height="3.3" fill="#000"/>
<rect x="891.71" y="80.57" width="3.3" height="3.3" fill="#000"/>
<rect x="891.71" y="96.90" width="3.3" height="3.3" fill="#000"/>
<rect x="984.44" y="96.90" width="3.3" height="3.3" fill="#000"/>
<rect x="984.44" y="113.23" width="3.3" height="3.3" fill="#000"/>
<rect x="984.44" y="129.55" width="3.3" height="3.3" fill="#000"/>
<rect x="984.44" y="145.87" width="3.3" height="3.3" fill="#000"/>
<rect x="984.44" y="162.20" width="3.3" height="3.3" fill="#000"/>
<line x1="690.40" y1="550.03" x2="707.90" y2="550.03" stroke="#bdbdbd" stroke-width="0.95"/>
<line x1="690.40" y1="570.80" x2="707.90" y2="570.80" stroke="#bdbdbd" stroke-width="0.95"/>
<line x1="690.40" y1="560.42" x2="707.90" y2="560.42" stroke="#bdbdbd" stroke-width="0.95"/>
<line x1="690.40" y1="581.19" x2="707.90" y2="550.03" stroke="#bdbdbd" stroke-width="0.95"/>
<line x1="690.40" y1="550.03" x2="707.90" y2="560.42" stroke="#bdbdbd" stroke-width="0.95"/>
<line x1="690.40" y1="570.80" x2="707.90" y2="560.42" stroke="#bdbdbd" stroke-width="0.95"/>
<line x1="690.40" y1="570.80" x2="707.90" y2="570.80" stroke="#bdbdbd" stroke-width="0.95"/>
<line x1="690.40" y1="581.19" x2="707.90" y2="570.80" stroke="#bdbdbd" stroke-width="0.95"/>
<line x1="690.40" y1="581.19" x2="707.90" y2="581.19" stroke="#bdbdbd" stroke-width="0.95"/>
<line x1="783.13" y1="508.49" x2="800.63" y2="466.94" stroke="#bdbdbd" stroke-width="0.95"/>
<line x1="783.13" y1="529.26" x2="800.63" y2="529.26" stroke="#bdbdbd" stroke-width="0.95"/>
<line x1="783.13" y1="529.26" x2="800.63" y2="508.49" stroke="#bdbdbd" stroke-width="0.95"/>
<line x1="783.13" y1="529.26" x2="800.63" y2="487.71" stroke="#bdbdbd" stroke-width="0.95"/>
<line x1="783.13" y1="550.03" x2="800.63" y2="550.03" stroke="#bdbdbd" stroke-width="0.95"/>
<line x1="783.13" y1="529.26" x2="800.63" y2="487.71" stroke="#bdbdbd" stroke-width="0.95"/>
<line x1="783.13" y1="560.42" x2="800.63" y2="560.42" stroke="#bdbdbd" stroke-width="0.95"/>
<line x1="783.13" y1="508.49" x2="800.63" y2="487.71" stroke="#bdbdbd" stroke-width="0.95"/>
<line x1="783.13" y1="529.26" x2="800.63" y2="529.26" stroke="#bdbdbd" stroke-width="0.95"/>
<line x1="783.13" y1="550.03" x2="800.63" y2="529.26" stroke="#bdbdbd" stroke-width="0.95"/>
<line x1="875.86" y1="466.94" x2="893.36" y2="446.17" stroke="#bdbdbd" stroke-width="0.95"/>
<line x1="875.86" y1="466.94" x2="893.36" y2="446.17" stroke="#bdbdbd" stroke-width="0.95"/>
<line x1="875.86" y1="487.71" x2="893.36" y2="466.94" stroke="#bdbdbd" stroke-width="0.95"/>
<line x1="875.86" y1="508.49" x2="893.36" y2="446.17" stroke="#bdbdbd" stroke-width="0.95"/>
<line x1="875.86" y1="487.71" x2="893.36" y2="446.17" stroke="#bdbdbd" stroke-width="0.95"/>
<line x1="875.86" y1="508.49" x2="893.36" y2="498.10" stroke="#bdbdbd" stroke-width="0.95"/>
<line x1="875.86" y1="508.49" x2="893.36" y2="487.71" stroke="#bdbdbd" stroke-width="0.95"/>
<line x1="875.86" y1="487.71" x2="893.36" y2="466.94" stroke="#bdbdbd" stroke-width="0.95"/>
<line x1="968.59" y1="529.26" x2="986.09" y2="529.26" stroke="#bdbdbd" stroke-width="0.95"/>
<line x1="968.59" y1="550.03" x2="986.09" y2="550.03" stroke="#bdbdbd" stroke-width="0.95"/>
<line x1="968.59" y1="550.03" x2="986.09" y2="550.03" stroke="#bdbdbd" stroke-width="0.95"/>
<line x1="968.59" y1="550.03" x2="986.09" y2="529.26" stroke="#bdbdbd" stroke-width="0.95"/>
<line x1="968.59" y1="570.80" x2="986.09" y2="560.42" stroke="#bdbdbd" stroke-width="0.95"/>
<line x1="968.59" y1="591.58" x2="986.09" y2="570.80" stroke="#bdbdbd" stroke-width="0.95"/>
<line x1="968.59" y1="570.80" x2="986.09" y2="550.03" stroke="#bdbdbd" stroke-width="0.95"/>
<line x1="968.59" y1="591.58" x2="986.09" y2="570.80" stroke="#bdbdbd" stroke-width="0.95"/>
<line x1="968.59" y1="581.19" x2="986.09" y2="570.80" stroke="#bdbdbd" stroke-width="0.95"/>
<line x1="968.59" y1="560.42" x2="986.09" y2="560.42" stroke="#bdbdbd" stroke-width="0.95"/>
<line x1="968.59" y1="581.19" x2="986.09" y2="570.80" stroke="#bdbdbd" stroke-width="0.95"/>
<line x1="672.90" y1="550.03" x2="690.40" y2="550.03" stroke="#858585" stroke-width="0.95"/>
<line x1="672.90" y1="570.80" x2="690.40" y2="570.80" stroke="#858585" stroke-width="0.95"/>
<line x1="672.90" y1="570.80" x2="690.40" y2="560.42" stroke="#858585" stroke-width="0.95"/>
<line x1="672.90" y1="560.42" x2="690.40" y2="581.19" stroke="#858585" stroke-width="0.95"/>
<line x1="672.90" y1="570.80" x2="690.40" y2="550.03" stroke="#858585" stroke-width="0.95"/>
<line x1="672.90" y1="591.58" x2="690.40" y2="570.80" stroke="#858585" stroke-width="0.95"/>
<line x1="672.90" y1="570.80" x2="690.40" y2="570.80" stroke="#858585" stroke-width="0.95"/>
<line x1="672.90" y1="560.42" x2="690.40" y2="581.19" stroke="#858585" stroke-width="0.95"/>
<line x1="672.90" y1="560.42" x2="690.40" y2="581.19" stroke="#858585" stroke-width="0.95"/>
<line x1="765.63" y1="529.26" x2="783.13" y2="508.49" stroke="#858585" stroke-width="0.95"/>
<line x1="765.63" y1="529.26" x2="783.13" y2="529.26" stroke="#858585" stroke-width="0.95"/>
<line x1="765.63" y1="550.03" x2="783.13" y2="529.26" stroke="#858585" stroke-width="0.95"/>
<line x1="765.63" y1="550.03" x2="783.13" y2="529.26" stroke="#858585" stroke-width="0.95"/>
<line x1="765.63" y1="560.42" x2="783.13" y2="550.03" stroke="#858585" stroke-width="0.95"/>
<line x1="765.63" y1="560.42" x2="783.13" y2="529.26" stroke="#858585" stroke-width="0.95"/>
<line x1="765.63" y1="570.80" x2="783.13" y2="560.42" stroke="#858585" stroke-width="0.95"/>
<line x1="765.63" y1="529.26" x2="783.13" y2="508.49" stroke="#858585" stroke-width="0.95"/>
<line x1="765.63" y1="550.03" x2="783.13" y2="529.26" stroke="#858585" stroke-width="0.95"/>
<line x1="765.63" y1="560.42" x2="783.13" y2="550.03" stroke="#858585" stroke-width="0.95"/>
<line x1="858.36" y1="487.71" x2="875.86" y2="466.94" stroke="#858585" stroke-width="0.95"/>
<line x1="858.36" y1="508.49" x2="875.86" y2="466.94" stroke="#858585" stroke-width="0.95"/>
<line x1="858.36" y1="508.49" x2="875.86" y2="487.71" stroke="#858585" stroke-width="0.95"/>
<line x1="858.36" y1="550.03" x2="875.86" y2="508.49" stroke="#858585" stroke-width="0.95"/>
<line x1="858.36" y1="529.26" x2="875.86" y2="487.71" stroke="#858585" stroke-width="0.95"/>
<line x1="858.36" y1="529.26" x2="875.86" y2="508.49" stroke="#858585" stroke-width="0.95"/>
<line x1="858.36" y1="529.26" x2="875.86" y2="508.49" stroke="#858585" stroke-width="0.95"/>
<line x1="858.36" y1="529.26" x2="875.86" y2="487.71" stroke="#858585" stroke-width="0.95"/>
<line x1="951.09" y1="529.26" x2="968.59" y2="529.26" stroke="#858585" stroke-width="0.95"/>
<line x1="951.09" y1="550.03" x2="968.59" y2="550.03" stroke="#858585" stroke-width="0.95"/>
<line x1="951.09" y1="560.42" x2="968.59" y2="550.03" stroke="#858585" stroke-width="0.95"/>
<line x1="951.09" y1="570.80" x2="968.59" y2="550.03" stroke="#858585" stroke-width="0.95"/>
<line x1="951.09" y1="581.19" x2="968.59" y2="570.80" stroke="#858585" stroke-width="0.95"/>
<line x1="951.09" y1="591.58" x2="968.59" y2="591.58" stroke="#858585" stroke-width="0.95"/>
<line x1="951.09" y1="591.58" x2="968.59" y2="570.80" stroke="#858585" stroke-width="0.95"/>
<line x1="951.09" y1="601.96" x2="968.59" y2="591.58" stroke="#858585" stroke-width="0.95"/>
<line x1="951.09" y1="591.58" x2="968.59" y2="581.19" stroke="#858585" stroke-width="0.95"/>
<line x1="951.09" y1="581.19" x2="968.59" y2="560.42" stroke="#858585" stroke-width="0.95"/>
<line x1="951.09" y1="581.19" x2="968.59" y2="581.19" stroke="#858585" stroke-width="0.95"/>
<line x1="655.40" y1="570.80" x2="672.90" y2="550.03" stroke="#404040" stroke-width="1.05"/>
<line x1="655.40" y1="570.80" x2="672.90" y2="570.80" stroke="#404040" stroke-width="1.05"/>
<line x1="655.40" y1="581.19" x2="672.90" y2="570.80" stroke="#404040" stroke-width="1.05"/>
<line x1="655.40" y1="591.58" x2="672.90" y2="560.42" stroke="#404040" stroke-width="1.05"/>
<line x1="655.40" y1="591.58" x2="672.90" y2="570.80" stroke="#404040" stroke-width="1.05"/>
<line x1="655.40" y1="591.58" x2="672.90" y2="591.58" stroke="#404040" stroke-width="1.05"/>
<line x1="655.40" y1="591.58" x2="672.90" y2="570.80" stroke="#404040" stroke-width="1.05"/>
<line x1="655.40" y1="591.58" x2="672.90" y2="560.42" stroke="#404040" stroke-width="1.05"/>
<line x1="655.40" y1="591.58" x2="672.90" y2="560.42" stroke="#404040" stroke-width="1.05"/>
<line x1="748.13" y1="550.03" x2="765.63" y2="529.26" stroke="#404040" stroke-width="1.05"/>
<line x1="748.13" y1="570.80" x2="765.63" y2="529.26" stroke="#404040" stroke-width="1.05"/>
<line x1="748.13" y1="560.42" x2="765.63" y2="550.03" stroke="#404040" stroke-width="1.05"/>
<line x1="748.13" y1="570.80" x2="765.63" y2="550.03" stroke="#404040" stroke-width="1.05"/>
<line x1="748.13" y1="570.80" x2="765.63" y2="560.42" stroke="#404040" stroke-width="1.05"/>
<line x1="748.13" y1="591.58" x2="765.63" y2="560.42" stroke="#404040" stroke-width="1.05"/>
<line x1="748.13" y1="591.58" x2="765.63" y2="570.80" stroke="#404040" stroke-width="1.05"/>
<line x1="748.13" y1="570.80" x2="765.63" y2="529.26" stroke="#404040" stroke-width="1.05"/>
<line x1="748.13" y1="560.42" x2="765.63" y2="550.03" stroke="#404040" stroke-width="1.05"/>
<line x1="748.13" y1="570.80" x2="765.63" y2="560.42" stroke="#404040" stroke-width="1.05"/>
<line x1="840.86" y1="508.49" x2="858.36" y2="487.71" stroke="#404040" stroke-width="1.05"/>
<line x1="840.86" y1="508.49" x2="858.36" y2="508.49" stroke="#404040" stroke-width="1.05"/>
<line x1="840.86" y1="550.03" x2="858.36" y2="508.49" stroke="#404040" stroke-width="1.05"/>
<line x1="840.86" y1="550.03" x2="858.36" y2="550.03" stroke="#404040" stroke-width="1.05"/>
<line x1="840.86" y1="560.42" x2="858.36" y2="529.26" stroke="#404040" stroke-width="1.05"/>
<line x1="840.86" y1="570.80" x2="858.36" y2="529.26" stroke="#404040" stroke-width="1.05"/>
<line x1="840.86" y1="550.03" x2="858.36" y2="529.26" stroke="#404040" stroke-width="1.05"/>
<line x1="840.86" y1="550.03" x2="858.36" y2="529.26" stroke="#404040" stroke-width="1.05"/>
<line x1="933.59" y1="550.03" x2="951.09" y2="529.26" stroke="#404040" stroke-width="1.05"/>
<line x1="933.59" y1="560.42" x2="951.09" y2="550.03" stroke="#404040" stroke-width="1.05"/>
<line x1="933.59" y1="560.42" x2="951.09" y2="560.42" stroke="#404040" stroke-width="1.05"/>
<line x1="933.59" y1="570.80" x2="951.09" y2="570.80" stroke="#404040" stroke-width="1.05"/>
<line x1="933.59" y1="591.58" x2="951.09" y2="581.19" stroke="#404040" stroke-width="1.05"/>
<line x1="933.59" y1="591.58" x2="951.09" y2="591.58" stroke="#404040" stroke-width="1.05"/>
<line x1="933.59" y1="612.35" x2="951.09" y2="591.58" stroke="#404040" stroke-width="1.05"/>
<line x1="933.59" y1="601.96" x2="951.09" y2="601.96" stroke="#404040" stroke-width="1.05"/>
<line x1="933.59" y1="601.96" x2="951.09" y2="591.58" stroke="#404040" stroke-width="1.05"/>
<line x1="933.59" y1="591.58" x2="951.09" y2="581.19" stroke="#404040" stroke-width="1.05"/>
<line x1="933.59" y1="591.58" x2="951.09" y2="581.19" stroke="#404040" stroke-width="1.05"/>
<rect x="653.75" y="569.15" width="3.3" height="3.3" fill="#000"/>
<rect x="653.75" y="579.54" width="3.3" height="3.3" fill="#000"/>
<rect x="653.75" y="589.93" width="3.3" height="3.3" fill="#000"/>
<rect x="746.48" y="548.38" width="3.3" height="3.3" fill="#000"/>
<rect x="746.48" y="558.77" width="3.3" height="3.3" fill="#000"/>
<rect x="746.48" y="569.15" width="3.3" height="3.3" fill="#000"/>
<rect x="746.48" y="589.93" width="3.3" height="3.3" fill="#000"/>
<rect x="839.21" y="506.84" width="3.3" height="3.3" fill="#000"/>
<rect x="839.21" y="548.38" width="3.3" height="3.3" fill="#000"/>
<rect x="839.21" y="558.77" width="3.3" height="3.3" fill="#000"/>
<rect x="839.21" y="569.15" width="3.3" height="3.3" fill="#000"/>
<rect x="931.94" y="548.38" width="3.3" height="3.3" fill="#000"/>
<rect x="931.94" y="558.77" width="3.3" height="3.3" fill="#000"/>
<rect x="931.94" y="569.15" width="3.3" height="3.3" fill="#000"/>
<rect x="931.94" y="589.93" width="3.3" height="3.3" fill="#000"/>
<rect x="931.94" y="600.31" width="3.3" height="3.3" fill="#000"/>
<rect x="931.94" y="610.70" width="3.3" height="3.3" fill="#000"/>
<rect x="671.50" y="548.63" width="2.8" height="2.8" fill="#505050"/>
<rect x="671.50" y="559.02" width="2.8" height="2.8" fill="#505050"/>
<rect x="671.50" y="569.40" width="2.8" height="2.8" fill="#505050"/>
<rect x="671.50" y="590.18" width="2.8" height="2.8" fill="#505050"/>
<rect x="764.23" y="527.86" width="2.8" height="2.8" fill="#505050"/>
<rect x="764.23" y="548.63" width="2.8" height="2.8" fill="#505050"/>
<rect x="764.23" y="559.02" width="2.8" height="2.8" fill="#505050"/>
<rect x="764.23" y="569.40" width="2.8" height="2.8" fill="#505050"/>
<rect x="856.96" y="486.31" width="2.8" height="2.8" fill="#505050"/>
<rect x="856.96" y="507.09" width="2.8" height="2.8" fill="#505050"/>
<rect x="856.96" y="527.86" width="2.8" height="2.8" fill="#505050"/>
<rect x="856.96" y="548.63" width="2.8" height="2.8" fill="#505050"/>
<rect x="949.69" y="527.86" width="2.8" height="2.8" fill="#505050"/>
<rect x="949.69" y="548.63" width="2.8" height="2.8" fill="#505050"/>
<rect x="949.69" y="559.02" width="2.8" height="2.8" fill="#505050"/>
<rect x="949.69" y="569.40" width="2.8" height="2.8" fill="#505050"/>
<rect x="949.69" y="579.79" width="2.8" height="2.8" fill="#505050"/>
<rect x="949.69" y="590.18" width="2.8" height="2.8" fill="#505050"/>
<rect x="949.69" y="600.56" width="2.8" height="2.8" fill="#505050"/>
<rect x="689.00" y="548.63" width="2.8" height="2.8" fill="#8c8c8c"/>
<rect x="689.00" y="559.02" width="2.8" height="2.8" fill="#8c8c8c"/>
<rect x="689.00" y="569.40" width="2.8" height="2.8" fill="#8c8c8c"/>
<rect x="689.00" y="579.79" width="2.8" height="2.8" fill="#8c8c8c"/>
<rect x="781.73" y="507.09" width="2.8" height="2.8" fill="#8c8c8c"/>
<rect x="781.73" y="527.86" width="2.8" height="2.8" fill="#8c8c8c"/>
<rect x="781.73" y="548.63" width="2.8" height="2.8" fill="#8c8c8c"/>
<rect x="781.73" y="559.02" width="2.8" height="2.8" fill="#8c8c8c"/>
<rect x="874.46" y="465.54" width="2.8" height="2.8" fill="#8c8c8c"/>
<rect x="874.46" y="486.31" width="2.8" height="2.8" fill="#8c8c8c"/>
<rect x="874.46" y="507.09" width="2.8" height="2.8" fill="#8c8c8c"/>
<rect x="967.19" y="527.86" width="2.8" height="2.8" fill="#8c8c8c"/>
<rect x="967.19" y="548.63" width="2.8" height="2.8" fill="#8c8c8c"/>
<rect x="967.19" y="559.02" width="2.8" height="2.8" fill="#8c8c8c"/>
<rect x="967.19" y="569.40" width="2.8" height="2.8" fill="#8c8c8c"/>
<rect x="967.19" y="579.79" width="2.8" height="2.8" fill="#8c8c8c"/>
<rect x="967.19" y="590.18" width="2.8" height="2.8" fill="#8c8c8c"/>
<rect x="706.25" y="548.38" width="3.3" height="3.3" fill="#000"/>
<rect x="706.25" y="558.77" width="3.3" height="3.3" fill="#000"/>
<rect x="706.25" y="569.15" width="3.3" height="3.3" fill="#000"/>
<rect x="706.25" y="579.54" width="3.3" height="3.3" fill="#000"/>
<rect x="798.98" y="465.29" width="3.3" height="3.3" fill="#000"/>
<rect x="798.98" y="486.06" width="3.3" height="3.3" fill="#000"/>
<rect x="798.98" y="506.84" width="3.3" height="3.3" fill="#000"/>
<rect x="798.98" y="527.61" width="3.3" height="3.3" fill="#000"/>
<rect x="798.98" y="548.38" width="3.3" height="3.3" fill="#000"/>
<rect x="798.98" y="558.77" width="3.3" height="3.3" fill="#000"/>
<rect x="891.71" y="444.52" width="3.3" height="3.3" fill="#000"/>
<rect x="891.71" y="465.29" width="3.3" height="3.3" fill="#000"/>
<rect x="891.71" y="486.06" width="3.3" height="3.3" fill="#000"/>
<rect x="891.71" y="496.45" width="3.3" height="3.3" fill="#000"/>
<rect x="984.44" y="527.61" width="3.3" height="3.3" fill="#000"/>
<rect x="984.44" y="548.38" width="3.3" height="3.3" fill="#000"/>
<rect x="984.44" y="558.77" width="3.3" height="3.3" fill="#000"/>
<rect x="984.44" y="569.15" width="3.3" height="3.3" fill="#000"/>
<rect x="335.1" y="696.2" width="25.3" height="10.2" fill="#000"/>
<text x="373.0" y="706.3" class="lg" style="fill:#0a0a0a;stroke:#0a0a0a">Set 1</text>
<rect x="460.2" y="696.2" width="25.3" height="10.2" fill="#4f4f4f"/>
<text x="497.0" y="706.3" class="lg" style="fill:#b9b9b9;stroke:#b9b9b9">Set 2</text>
<rect x="583.4" y="696.2" width="25.3" height="10.2" fill="#999"/>
<text x="620.6" y="706.3" class="lg" style="fill:#0a0a0a;stroke:#0a0a0a">Set 3</text>
<rect x="699.6" y="696.2" width="25.3" height="10.2" fill="#d4d4d4"/>
<text x="736.4" y="706.3" class="lg" style="fill:#0a0a0a;stroke:#0a0a0a">Set 4</text>
</g></svg></body></html>
